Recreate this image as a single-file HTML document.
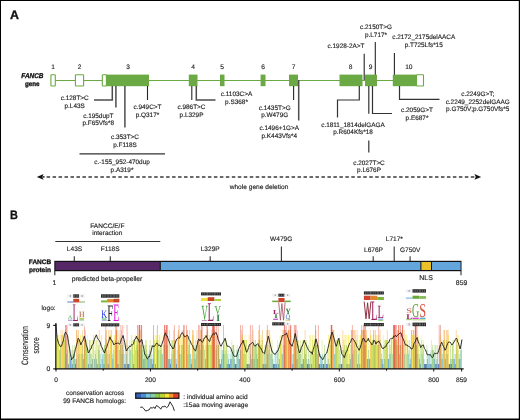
<!DOCTYPE html>
<html><head><meta charset="utf-8"><title>FANCB</title>
<style>
html,body{margin:0;padding:0;background:#fff;}
body{width:520px;height:420px;overflow:hidden;font-family:"Liberation Sans",sans-serif;}
svg{display:block;position:absolute;left:0;top:0;filter:opacity(0.9999)}
svg text{font-family:"Liberation Sans",sans-serif;text-rendering:geometricPrecision;}
</style></head><body>
<svg width="520" height="420" viewBox="0 0 520 420">
<rect x="0" y="0" width="520" height="420" fill="#fff"/>
<text x="10.1" y="18.8" text-anchor="start" font-size="12.4" font-weight="bold" font-style="normal" fill="#111" stroke="#111" stroke-width="0.3" >A</text>
<line x1="55" y1="80.5" x2="393" y2="80.5" stroke="#6aa943" stroke-width="1" />
<rect x="50.9" y="74.8" width="4.399999999999999" height="11.200000000000003" fill="#fff" stroke="#6aa943" stroke-width="1.1" rx="0.6"/>
<rect x="75.4" y="74.8" width="8.199999999999989" height="11.200000000000003" fill="#fff" stroke="#6aa943" stroke-width="1.1" rx="0.6"/>
<rect x="102.3" y="74.8" width="4.1000000000000085" height="11.200000000000003" fill="#fff" stroke="#6aa943" stroke-width="1.1" rx="0.6"/>
<rect x="106.2" y="74.6" width="42.8" height="11.600000000000009" fill="#6aa943"/>
<rect x="188.8" y="74.6" width="8.699999999999989" height="11.600000000000009" fill="#6aa943"/>
<rect x="220" y="74.6" width="4.5" height="11.600000000000009" fill="#6aa943"/>
<rect x="260.6" y="74.6" width="4.899999999999977" height="11.600000000000009" fill="#6aa943"/>
<rect x="289" y="74.6" width="9" height="11.600000000000009" fill="#6aa943"/>
<rect x="339.5" y="74.6" width="23.0" height="11.600000000000009" fill="#6aa943"/>
<rect x="365" y="74.6" width="12" height="11.600000000000009" fill="#6aa943"/>
<rect x="392.8" y="74.6" width="23.80000000000001" height="11.600000000000009" fill="#6aa943"/>
<rect x="416.5" y="74.8" width="7" height="11.200000000000003" fill="#fff" stroke="#6aa943" stroke-width="1.1" rx="0.6"/>
<text x="53" y="69.3" text-anchor="middle" font-size="6.6" font-weight="normal" font-style="normal" fill="#222" stroke="#222" stroke-width="0.14" >1</text>
<text x="79.5" y="69.3" text-anchor="middle" font-size="6.6" font-weight="normal" font-style="normal" fill="#222" stroke="#222" stroke-width="0.14" >2</text>
<text x="128" y="69.3" text-anchor="middle" font-size="6.6" font-weight="normal" font-style="normal" fill="#222" stroke="#222" stroke-width="0.14" >3</text>
<text x="193" y="69.3" text-anchor="middle" font-size="6.6" font-weight="normal" font-style="normal" fill="#222" stroke="#222" stroke-width="0.14" >4</text>
<text x="222" y="69.3" text-anchor="middle" font-size="6.6" font-weight="normal" font-style="normal" fill="#222" stroke="#222" stroke-width="0.14" >5</text>
<text x="263" y="69.3" text-anchor="middle" font-size="6.6" font-weight="normal" font-style="normal" fill="#222" stroke="#222" stroke-width="0.14" >6</text>
<text x="293.7" y="69.3" text-anchor="middle" font-size="6.6" font-weight="normal" font-style="normal" fill="#222" stroke="#222" stroke-width="0.14" >7</text>
<text x="350.7" y="69.3" text-anchor="middle" font-size="6.6" font-weight="normal" font-style="normal" fill="#222" stroke="#222" stroke-width="0.14" >8</text>
<text x="370.7" y="69.3" text-anchor="middle" font-size="6.6" font-weight="normal" font-style="normal" fill="#222" stroke="#222" stroke-width="0.14" >9</text>
<text x="408.8" y="69.3" text-anchor="middle" font-size="6.6" font-weight="normal" font-style="normal" fill="#222" stroke="#222" stroke-width="0.14" >10</text>
<polyline points="94,100 112.3,100 112.3,86" fill="none" stroke="#4d4d4d" stroke-width="1.5" />
<line x1="115.9" y1="86" x2="115.9" y2="107.5" stroke="#4d4d4d" stroke-width="1.5" />
<line x1="124.9" y1="86" x2="124.9" y2="127.5" stroke="#4d4d4d" stroke-width="1.5" />
<line x1="147.5" y1="86" x2="147.5" y2="100" stroke="#262626" stroke-width="1.1" />
<line x1="191.8" y1="86" x2="191.8" y2="100" stroke="#262626" stroke-width="1.1" />
<polyline points="196.3,86 196.3,100 215.5,100" fill="none" stroke="#4d4d4d" stroke-width="1.5" />
<line x1="293.6" y1="86" x2="293.6" y2="100" stroke="#262626" stroke-width="1.1" />
<line x1="298.7" y1="80" x2="298.7" y2="120.5" stroke="#4d4d4d" stroke-width="1.5" />
<polyline points="359.3,86 359.3,100 337.5,100 337.5,117.5" fill="none" stroke="#333" stroke-width="1.2" />
<line x1="364.2" y1="53.8" x2="364.2" y2="80" stroke="#262626" stroke-width="1.1" />
<line x1="368.8" y1="86" x2="368.8" y2="113.8" stroke="#333" stroke-width="1.2" />
<line x1="368.8" y1="140.5" x2="368.8" y2="152.5" stroke="#333" stroke-width="1.2" />
<polyline points="372.5,86 372.5,113.5 392,113.5" fill="none" stroke="#333" stroke-width="1.2" />
<line x1="375.3" y1="42" x2="375.3" y2="74.8" stroke="#262626" stroke-width="1.1" />
<line x1="394.4" y1="53" x2="394.4" y2="74.8" stroke="#262626" stroke-width="1.1" />
<polyline points="399.5,86 399.5,99.3 439.5,99.3" fill="none" stroke="#333" stroke-width="1.2" />
<line x1="79.5" y1="153.8" x2="165" y2="153.8" stroke="#333" stroke-width="1.2" />
<text x="74.7" y="100.2" text-anchor="middle" font-size="6.42" font-weight="normal" font-style="normal" fill="#222" stroke="#222" stroke-width="0.14" >c.128T&gt;C</text>
<text x="74.7" y="107.8" text-anchor="middle" font-size="6.42" font-weight="normal" font-style="normal" fill="#222" stroke="#222" stroke-width="0.14" >p.L43S</text>
<text x="98.3" y="117.6" text-anchor="middle" font-size="6.42" font-weight="normal" font-style="normal" fill="#222" stroke="#222" stroke-width="0.14" >c.195dupT</text>
<text x="98.3" y="125.2" text-anchor="middle" font-size="6.42" font-weight="normal" font-style="normal" fill="#222" stroke="#222" stroke-width="0.14" >p.F65Vfs*8</text>
<text x="125" y="139.0" text-anchor="middle" font-size="6.42" font-weight="normal" font-style="normal" fill="#222" stroke="#222" stroke-width="0.14" >c.353T&gt;C</text>
<text x="125" y="146.6" text-anchor="middle" font-size="6.42" font-weight="normal" font-style="normal" fill="#222" stroke="#222" stroke-width="0.14" >p.F118S</text>
<text x="122" y="164.0" text-anchor="middle" font-size="6.42" font-weight="normal" font-style="normal" fill="#222" stroke="#222" stroke-width="0.14" >c.-155_952-470dup</text>
<text x="122" y="171.6" text-anchor="middle" font-size="6.42" font-weight="normal" font-style="normal" fill="#222" stroke="#222" stroke-width="0.14" >p.A319*</text>
<text x="147.5" y="109.0" text-anchor="middle" font-size="6.42" font-weight="normal" font-style="normal" fill="#222" stroke="#222" stroke-width="0.14" >c.949C&gt;T</text>
<text x="147.5" y="116.6" text-anchor="middle" font-size="6.42" font-weight="normal" font-style="normal" fill="#222" stroke="#222" stroke-width="0.14" >p.Q317*</text>
<text x="191.5" y="109.3" text-anchor="middle" font-size="6.42" font-weight="normal" font-style="normal" fill="#222" stroke="#222" stroke-width="0.14" >c.986T&gt;C</text>
<text x="191.5" y="116.9" text-anchor="middle" font-size="6.42" font-weight="normal" font-style="normal" fill="#222" stroke="#222" stroke-width="0.14" >p.L329P</text>
<text x="236.5" y="96.0" text-anchor="middle" font-size="6.42" font-weight="normal" font-style="normal" fill="#222" stroke="#222" stroke-width="0.14" >c.1103C&gt;A</text>
<text x="236.5" y="103.6" text-anchor="middle" font-size="6.42" font-weight="normal" font-style="normal" fill="#222" stroke="#222" stroke-width="0.14" >p.S368*</text>
<text x="274.7" y="109.5" text-anchor="middle" font-size="6.42" font-weight="normal" font-style="normal" fill="#222" stroke="#222" stroke-width="0.14" >c.1435T&gt;G</text>
<text x="274.7" y="117.1" text-anchor="middle" font-size="6.42" font-weight="normal" font-style="normal" fill="#222" stroke="#222" stroke-width="0.14" >p.W479G</text>
<text x="279.3" y="130.4" text-anchor="middle" font-size="6.42" font-weight="normal" font-style="normal" fill="#222" stroke="#222" stroke-width="0.14" >c.1496+1G&gt;A</text>
<text x="279.3" y="138.0" text-anchor="middle" font-size="6.42" font-weight="normal" font-style="normal" fill="#222" stroke="#222" stroke-width="0.14" >p.K443Vfs*4</text>
<text x="353" y="126.7" text-anchor="middle" font-size="6.42" font-weight="normal" font-style="normal" fill="#222" stroke="#222" stroke-width="0.14" >c.1811_1814delGAGA</text>
<text x="353" y="134.3" text-anchor="middle" font-size="6.42" font-weight="normal" font-style="normal" fill="#222" stroke="#222" stroke-width="0.14" >p.R604Kfs*18</text>
<text x="346" y="48.4" text-anchor="middle" font-size="6.42" font-weight="normal" font-style="normal" fill="#222" stroke="#222" stroke-width="0.14" >c.1928-2A&gt;T</text>
<text x="376" y="29.0" text-anchor="middle" font-size="6.42" font-weight="normal" font-style="normal" fill="#222" stroke="#222" stroke-width="0.14" >c.2150T&gt;G</text>
<text x="376" y="36.6" text-anchor="middle" font-size="6.42" font-weight="normal" font-style="normal" fill="#222" stroke="#222" stroke-width="0.14" >p.L717*</text>
<text x="423.7" y="39.2" text-anchor="middle" font-size="6.42" font-weight="normal" font-style="normal" fill="#222" stroke="#222" stroke-width="0.14" >c.2172_2175delAACA</text>
<text x="423.7" y="46.8" text-anchor="middle" font-size="6.42" font-weight="normal" font-style="normal" fill="#222" stroke="#222" stroke-width="0.14" >p.T725Lfs*15</text>
<text x="417" y="112.2" text-anchor="middle" font-size="6.42" font-weight="normal" font-style="normal" fill="#222" stroke="#222" stroke-width="0.14" >c.2059G&gt;T</text>
<text x="417" y="119.8" text-anchor="middle" font-size="6.42" font-weight="normal" font-style="normal" fill="#222" stroke="#222" stroke-width="0.14" >p.E687*</text>
<text x="477.7" y="96.0" text-anchor="middle" font-size="6.42" font-weight="normal" font-style="normal" fill="#222" stroke="#222" stroke-width="0.14" >c.2249G&gt;T;</text>
<text x="477.7" y="103.6" text-anchor="middle" font-size="6.42" font-weight="normal" font-style="normal" fill="#222" stroke="#222" stroke-width="0.14" >c.2249_2252delGAAG</text>
<text x="477.7" y="111.2" text-anchor="middle" font-size="6.42" font-weight="normal" font-style="normal" fill="#222" stroke="#222" stroke-width="0.14" >p.G750V;p.G750Vfs*5</text>
<text x="369" y="164.6" text-anchor="middle" font-size="6.42" font-weight="normal" font-style="normal" fill="#222" stroke="#222" stroke-width="0.14" >c.2027T&gt;C</text>
<text x="369" y="172.2" text-anchor="middle" font-size="6.42" font-weight="normal" font-style="normal" fill="#222" stroke="#222" stroke-width="0.14" >p.L676P</text>
<text x="32.4" y="77.9" text-anchor="middle" font-size="6.9" font-weight="bold" font-style="italic" fill="#111" stroke="#111" stroke-width="0.3" textLength="22.2" lengthAdjust="spacingAndGlyphs">FANCB</text>
<text x="32.3" y="85.5" text-anchor="middle" font-size="6.6" font-weight="bold" font-style="normal" fill="#111" stroke="#111" stroke-width="0.3" textLength="14.6" lengthAdjust="spacingAndGlyphs">gene</text>
<line x1="46.6" y1="176.9" x2="475.5" y2="176.9" stroke="#3a3a3a" stroke-width="1.5" stroke-dasharray="3.5 2.475"/>
<line x1="42.5" y1="176.9" x2="44.6" y2="176.9" stroke="#222" stroke-width="1.5" />
<path d="M36.8,176.9 L43.6,174.1 L42.2,176.9 L43.6,179.7 Z" fill="#111"/>
<path d="M481.2,176.9 L474.4,174.1 L475.8,176.9 L474.4,179.7 Z" fill="#111"/>
<text x="259" y="189.2" text-anchor="middle" font-size="6.6" font-weight="normal" font-style="normal" fill="#222" stroke="#222" stroke-width="0.14" >whole gene deletion</text>
<text x="10.1" y="218.7" text-anchor="start" font-size="12.2" font-weight="bold" font-style="normal" fill="#111" stroke="#111" stroke-width="0.3" textLength="7.9" lengthAdjust="spacingAndGlyphs">B</text>
<text x="107.3" y="228" text-anchor="middle" font-size="6.55" font-weight="normal" font-style="normal" fill="#222" stroke="#222" stroke-width="0.14" >FANCC/E/F</text>
<text x="107.3" y="235.3" text-anchor="middle" font-size="6.55" font-weight="normal" font-style="normal" fill="#222" stroke="#222" stroke-width="0.14" >interaction</text>
<line x1="55.3" y1="241.5" x2="160.3" y2="241.5" stroke="#333" stroke-width="1.1" />
<text x="74.5" y="250.9" text-anchor="middle" font-size="6.55" font-weight="normal" font-style="normal" fill="#222" stroke="#222" stroke-width="0.14" >L43S</text>
<text x="110.2" y="250.9" text-anchor="middle" font-size="6.55" font-weight="normal" font-style="normal" fill="#222" stroke="#222" stroke-width="0.14" >F118S</text>
<text x="210.2" y="250.9" text-anchor="middle" font-size="6.55" font-weight="normal" font-style="normal" fill="#222" stroke="#222" stroke-width="0.14" >L329P</text>
<text x="281.2" y="241.2" text-anchor="middle" font-size="6.55" font-weight="normal" font-style="normal" fill="#222" stroke="#222" stroke-width="0.14" >W479G</text>
<text x="373.5" y="252" text-anchor="middle" font-size="6.55" font-weight="normal" font-style="normal" fill="#222" stroke="#222" stroke-width="0.14" >L676P</text>
<text x="394.3" y="241.3" text-anchor="middle" font-size="6.55" font-weight="normal" font-style="normal" fill="#222" stroke="#222" stroke-width="0.14" >L717*</text>
<text x="410.2" y="252" text-anchor="middle" font-size="6.55" font-weight="normal" font-style="normal" fill="#222" stroke="#222" stroke-width="0.14" >G750V</text>
<line x1="74.3" y1="256.3" x2="74.3" y2="261" stroke="#333" stroke-width="1.1" />
<line x1="110.3" y1="256.3" x2="110.3" y2="261" stroke="#333" stroke-width="1.1" />
<line x1="210.2" y1="256.3" x2="210.2" y2="261" stroke="#333" stroke-width="1.1" />
<line x1="281.4" y1="246.5" x2="281.4" y2="261" stroke="#333" stroke-width="1.1" />
<line x1="373.2" y1="256.3" x2="373.2" y2="261" stroke="#333" stroke-width="1.1" />
<line x1="394.2" y1="246.5" x2="394.2" y2="261" stroke="#333" stroke-width="1.1" />
<line x1="410.1" y1="256.3" x2="410.1" y2="261" stroke="#333" stroke-width="1.1" />
<rect x="54.3" y="260.8" width="407.2" height="10.4" fill="#111"/>
<rect x="55.4" y="262" width="104.3" height="8" fill="#562766"/>
<rect x="160.8" y="262" width="259.6" height="8" fill="#64a5dc"/>
<rect x="421.4" y="262" width="9.6" height="8" fill="#ecc027"/>
<rect x="432" y="262" width="28.6" height="8" fill="#64a5dc"/>
<line x1="54.8" y1="271" x2="54.8" y2="275.3" stroke="#333" stroke-width="1.1" />
<line x1="461" y1="271" x2="461" y2="275.3" stroke="#333" stroke-width="1.1" />
<text x="54.4" y="284.9" text-anchor="middle" font-size="6.8" font-weight="normal" font-style="normal" fill="#222" stroke="#222" stroke-width="0.14" >1</text>
<text x="461.6" y="285.3" text-anchor="middle" font-size="6.9" font-weight="normal" font-style="normal" fill="#222" stroke="#222" stroke-width="0.14" >859</text>
<text x="107" y="281" text-anchor="middle" font-size="6.7" font-weight="normal" font-style="normal" fill="#222" stroke="#222" stroke-width="0.14" >predicted beta-propeller</text>
<text x="426" y="280.2" text-anchor="middle" font-size="7" font-weight="normal" font-style="normal" fill="#222" stroke="#222" stroke-width="0.14" >NLS</text>
<text x="40" y="264.2" text-anchor="middle" font-size="6.5" font-weight="bold" font-style="normal" fill="#111" stroke="#111" stroke-width="0.3" >FANCB</text>
<text x="40" y="272.3" text-anchor="middle" font-size="6.5" font-weight="bold" font-style="normal" fill="#111" stroke="#111" stroke-width="0.3" >protein</text>
<text x="48.5" y="309.8" text-anchor="middle" font-size="6.55" font-weight="normal" font-style="normal" fill="#222" stroke="#222" stroke-width="0.14" >logo:</text>
<g shape-rendering="crispEdges">
<rect x="56" y="339.9" width="1" height="29.0" fill="#dee45a"/>
<rect x="56" y="335.1" width="1" height="4.8" fill="#fcf6b4"/>
<rect x="57" y="339.9" width="1" height="29.0" fill="#e8e759"/>
<rect x="57" y="335.1" width="1" height="4.8" fill="#fbf290"/>
<rect x="58" y="339.9" width="1" height="29.0" fill="#e2e55a"/>
<rect x="58" y="335.1" width="1" height="4.8" fill="#fcf5a6"/>
<rect x="59" y="349.6" width="1" height="19.3" fill="#b5db9c"/>
<rect x="59" y="335.1" width="1" height="14.5" fill="#fdfad1"/>
<rect x="60" y="349.6" width="1" height="19.3" fill="#b5c976"/>
<rect x="60" y="344.7" width="1" height="4.8" fill="#cdd387"/>
<rect x="60" y="330.2" width="1" height="14.5" fill="#fdead3"/>
<rect x="61" y="335.1" width="1" height="33.8" fill="#f8de56"/>
<rect x="61" y="330.2" width="1" height="4.8" fill="#fdeeda"/>
<rect x="62" y="339.9" width="1" height="29.0" fill="#f5d656"/>
<rect x="62" y="335.1" width="1" height="4.8" fill="#f8d85d"/>
<rect x="62" y="330.2" width="1" height="4.8" fill="#fce4c7"/>
<rect x="63" y="339.9" width="1" height="29.0" fill="#e0dc59"/>
<rect x="63" y="335.1" width="1" height="4.8" fill="#fbecaa"/>
<rect x="63" y="330.2" width="1" height="4.8" fill="#fef3e6"/>
<rect x="64" y="339.9" width="1" height="29.0" fill="#d3da5a"/>
<rect x="64" y="335.1" width="1" height="4.8" fill="#fdf4d9"/>
<rect x="64" y="330.2" width="1" height="4.8" fill="#fef6eb"/>
<rect x="65" y="339.9" width="1" height="29.0" fill="#e88550"/>
<rect x="65" y="330.2" width="1" height="9.7" fill="#ed885d"/>
<rect x="65" y="325.4" width="1" height="4.8" fill="#f0a69b"/>
<rect x="66" y="354.4" width="1" height="14.5" fill="#bd9393"/>
<rect x="66" y="325.4" width="1" height="29.0" fill="#f1a89f"/>
<rect x="67" y="354.4" width="1" height="14.5" fill="#c4b885"/>
<rect x="67" y="349.6" width="1" height="4.8" fill="#c6b985"/>
<rect x="67" y="335.1" width="1" height="14.5" fill="#f6cda9"/>
<rect x="67" y="325.4" width="1" height="9.7" fill="#f7d1cc"/>
<rect x="68" y="364.1" width="1" height="4.8" fill="#9cb190"/>
<rect x="68" y="339.9" width="1" height="24.2" fill="#f0f2ae"/>
<rect x="68" y="335.1" width="1" height="4.8" fill="#fdfad5"/>
<rect x="69" y="354.4" width="1" height="14.5" fill="#a2d5af"/>
<rect x="69" y="349.6" width="1" height="4.8" fill="#c1e3b6"/>
<rect x="69" y="339.9" width="1" height="9.7" fill="#f3f8da"/>
<rect x="70" y="359.2" width="1" height="9.7" fill="#75addb"/>
<rect x="70" y="354.4" width="1" height="4.8" fill="#e5f4f9"/>
<rect x="71" y="364.1" width="1" height="4.8" fill="#8ac5d1"/>
<rect x="71" y="359.2" width="1" height="4.8" fill="#94cdd5"/>
<rect x="71" y="354.4" width="1" height="4.8" fill="#acdcdb"/>
<rect x="71" y="349.6" width="1" height="4.8" fill="#ddf1e6"/>
<rect x="72" y="364.1" width="1" height="4.8" fill="#82b1a0"/>
<rect x="72" y="349.6" width="1" height="14.5" fill="#c6e5b7"/>
<rect x="72" y="344.7" width="1" height="4.8" fill="#dceec8"/>
<rect x="73" y="354.4" width="1" height="14.5" fill="#94d1c8"/>
<rect x="73" y="349.6" width="1" height="4.8" fill="#d1ebd6"/>
<rect x="73" y="344.7" width="1" height="4.8" fill="#f6fbf1"/>
<rect x="74" y="359.2" width="1" height="9.7" fill="#91c9ae"/>
<rect x="74" y="354.4" width="1" height="4.8" fill="#a8d8b4"/>
<rect x="74" y="344.7" width="1" height="9.7" fill="#d6ebbe"/>
<rect x="75" y="364.1" width="1" height="4.8" fill="#6693cc"/>
<rect x="75" y="359.2" width="1" height="4.8" fill="#b4d0e7"/>
<rect x="75" y="344.7" width="1" height="14.5" fill="#fcfefa"/>
<rect x="76" y="359.2" width="1" height="9.7" fill="#d0aa76"/>
<rect x="76" y="330.2" width="1" height="29.0" fill="#f8c380"/>
<rect x="77" y="354.4" width="1" height="14.5" fill="#dcd57a"/>
<rect x="77" y="335.1" width="1" height="19.3" fill="#f9e181"/>
<rect x="77" y="330.2" width="1" height="4.8" fill="#fdebd6"/>
<rect x="78" y="354.4" width="1" height="14.5" fill="#d2c373"/>
<rect x="78" y="339.9" width="1" height="14.5" fill="#eacd78"/>
<rect x="78" y="330.2" width="1" height="9.7" fill="#fad7aa"/>
<rect x="79" y="354.4" width="1" height="14.5" fill="#b8da88"/>
<rect x="79" y="339.9" width="1" height="14.5" fill="#dde990"/>
<rect x="79" y="335.1" width="1" height="4.8" fill="#fffef7"/>
<rect x="80" y="354.4" width="1" height="14.5" fill="#e5e66c"/>
<rect x="80" y="339.9" width="1" height="14.5" fill="#f6ed70"/>
<rect x="80" y="335.1" width="1" height="4.8" fill="#faf07d"/>
<rect x="81" y="354.4" width="1" height="14.5" fill="#b2d893"/>
<rect x="81" y="344.7" width="1" height="9.7" fill="#dfeb9c"/>
<rect x="81" y="339.9" width="1" height="4.8" fill="#e9f0ad"/>
<rect x="81" y="335.1" width="1" height="4.8" fill="#fefdec"/>
<rect x="82" y="354.4" width="1" height="14.5" fill="#c0c17b"/>
<rect x="82" y="344.7" width="1" height="9.7" fill="#d9cc81"/>
<rect x="82" y="330.2" width="1" height="14.5" fill="#fbdcb5"/>
<rect x="83" y="359.2" width="1" height="9.7" fill="#8fbcc0"/>
<rect x="83" y="354.4" width="1" height="4.8" fill="#d0e6d2"/>
<rect x="83" y="339.9" width="1" height="14.5" fill="#f5f5da"/>
<rect x="83" y="330.2" width="1" height="9.7" fill="#fffbf7"/>
<rect x="84" y="359.2" width="1" height="9.7" fill="#dfa356"/>
<rect x="84" y="339.9" width="1" height="19.3" fill="#e1a457"/>
<rect x="84" y="335.1" width="1" height="4.8" fill="#f1ae86"/>
<rect x="84" y="325.4" width="1" height="9.7" fill="#f2b2a9"/>
<rect x="85" y="344.7" width="1" height="24.2" fill="#e2c558"/>
<rect x="85" y="335.1" width="1" height="9.7" fill="#f8d07c"/>
<rect x="85" y="330.2" width="1" height="4.8" fill="#fad5a6"/>
<rect x="86" y="344.7" width="1" height="24.2" fill="#b5d863"/>
<rect x="86" y="339.9" width="1" height="4.8" fill="#e4efad"/>
<rect x="87" y="364.1" width="1" height="4.8" fill="#c1da8a"/>
<rect x="87" y="354.4" width="1" height="9.7" fill="#c7de8c"/>
<rect x="87" y="344.7" width="1" height="9.7" fill="#eaed94"/>
<rect x="87" y="335.1" width="1" height="9.7" fill="#fcf6b1"/>
<rect x="88" y="364.1" width="1" height="4.8" fill="#7fafbe"/>
<rect x="88" y="354.4" width="1" height="9.7" fill="#c8e7d8"/>
<rect x="88" y="349.6" width="1" height="4.8" fill="#daefdc"/>
<rect x="88" y="339.9" width="1" height="9.7" fill="#fcfdf5"/>
<rect x="89" y="349.6" width="1" height="19.3" fill="#c3dd67"/>
<rect x="89" y="339.9" width="1" height="9.7" fill="#d0e271"/>
<rect x="90" y="364.1" width="1" height="4.8" fill="#a2cba1"/>
<rect x="90" y="354.4" width="1" height="9.7" fill="#b8dca9"/>
<rect x="90" y="339.9" width="1" height="14.5" fill="#e6f0b3"/>
<rect x="91" y="364.1" width="1" height="4.8" fill="#85b6c4"/>
<rect x="91" y="354.4" width="1" height="9.7" fill="#bde2d8"/>
<rect x="91" y="339.9" width="1" height="14.5" fill="#f6fae5"/>
<rect x="92" y="359.2" width="1" height="9.7" fill="#9dc29b"/>
<rect x="92" y="354.4" width="1" height="4.8" fill="#e1edad"/>
<rect x="92" y="339.9" width="1" height="14.5" fill="#e4efad"/>
<rect x="93" y="339.9" width="1" height="29.0" fill="#ebe859"/>
<rect x="93" y="335.1" width="1" height="4.8" fill="#faf185"/>
<rect x="94" y="359.2" width="1" height="9.7" fill="#9bc1b1"/>
<rect x="94" y="349.6" width="1" height="9.7" fill="#e4f0c5"/>
<rect x="94" y="335.1" width="1" height="14.5" fill="#fdfad7"/>
<rect x="95" y="359.2" width="1" height="9.7" fill="#a1d4b3"/>
<rect x="95" y="354.4" width="1" height="4.8" fill="#a3d5b4"/>
<rect x="95" y="349.6" width="1" height="4.8" fill="#dbedc0"/>
<rect x="95" y="339.9" width="1" height="9.7" fill="#eff5cf"/>
<rect x="96" y="364.1" width="1" height="4.8" fill="#9bbf99"/>
<rect x="96" y="359.2" width="1" height="4.8" fill="#a3c59c"/>
<rect x="96" y="339.9" width="1" height="19.3" fill="#e4efad"/>
<rect x="97" y="364.1" width="1" height="4.8" fill="#a7ba8e"/>
<rect x="97" y="349.6" width="1" height="14.5" fill="#edf0a6"/>
<rect x="97" y="339.9" width="1" height="9.7" fill="#f5f3ac"/>
<rect x="97" y="335.1" width="1" height="4.8" fill="#fdf8c3"/>
<rect x="98" y="349.6" width="1" height="19.3" fill="#b2d283"/>
<rect x="98" y="344.7" width="1" height="4.8" fill="#d8e29f"/>
<rect x="98" y="335.1" width="1" height="9.7" fill="#fdf3d9"/>
<rect x="98" y="330.2" width="1" height="4.8" fill="#fef6eb"/>
<rect x="99" y="364.1" width="1" height="4.8" fill="#b2ba8e"/>
<rect x="99" y="349.6" width="1" height="14.5" fill="#cacc97"/>
<rect x="99" y="344.7" width="1" height="4.8" fill="#f4deb5"/>
<rect x="99" y="330.2" width="1" height="14.5" fill="#fce2c1"/>
<rect x="100" y="364.1" width="1" height="4.8" fill="#90bac0"/>
<rect x="100" y="354.4" width="1" height="9.7" fill="#c6e4d2"/>
<rect x="100" y="349.6" width="1" height="4.8" fill="#f9fade"/>
<rect x="100" y="335.1" width="1" height="14.5" fill="#fefbe1"/>
<rect x="101" y="359.2" width="1" height="9.7" fill="#dadc75"/>
<rect x="101" y="354.4" width="1" height="4.8" fill="#f8ef7d"/>
<rect x="101" y="335.1" width="1" height="19.3" fill="#faf07d"/>
<rect x="102" y="359.2" width="1" height="9.7" fill="#89c5d7"/>
<rect x="102" y="354.4" width="1" height="4.8" fill="#addce1"/>
<rect x="102" y="349.6" width="1" height="4.8" fill="#e7f5ee"/>
<rect x="103" y="364.1" width="1" height="4.8" fill="#82bad2"/>
<rect x="103" y="354.4" width="1" height="9.7" fill="#b0dde2"/>
<rect x="103" y="349.6" width="1" height="4.8" fill="#e9f6ef"/>
<rect x="104" y="364.1" width="1" height="4.8" fill="#96c37b"/>
<rect x="104" y="344.7" width="1" height="19.3" fill="#b6db86"/>
<rect x="104" y="335.1" width="1" height="9.7" fill="#fffefa"/>
<rect x="105" y="344.7" width="1" height="24.2" fill="#e4b457"/>
<rect x="105" y="335.1" width="1" height="9.7" fill="#f3bb6f"/>
<rect x="105" y="330.2" width="1" height="4.8" fill="#f5c4b8"/>
<rect x="105" y="325.4" width="1" height="4.8" fill="#f6c9c3"/>
<rect x="106" y="349.6" width="1" height="19.3" fill="#dab95e"/>
<rect x="106" y="339.9" width="1" height="9.7" fill="#e4bd65"/>
<rect x="106" y="330.2" width="1" height="9.7" fill="#f8caa2"/>
<rect x="106" y="325.4" width="1" height="4.8" fill="#fcebe9"/>
<rect x="107" y="364.1" width="1" height="4.8" fill="#91c8c3"/>
<rect x="107" y="354.4" width="1" height="9.7" fill="#a7d9ca"/>
<rect x="107" y="349.6" width="1" height="4.8" fill="#d5ecd5"/>
<rect x="107" y="339.9" width="1" height="9.7" fill="#fafcf0"/>
<rect x="108" y="364.1" width="1" height="4.8" fill="#aba591"/>
<rect x="108" y="354.4" width="1" height="9.7" fill="#e4d1a5"/>
<rect x="108" y="349.6" width="1" height="4.8" fill="#ebd4a7"/>
<rect x="108" y="330.2" width="1" height="19.3" fill="#fbdbb2"/>
<rect x="109" y="354.4" width="1" height="14.5" fill="#a9c9b6"/>
<rect x="109" y="349.6" width="1" height="4.8" fill="#dee0c2"/>
<rect x="109" y="330.2" width="1" height="19.3" fill="#fdecd8"/>
<rect x="110" y="335.1" width="1" height="33.8" fill="#f8da56"/>
<rect x="110" y="330.2" width="1" height="4.8" fill="#fce8cf"/>
<rect x="111" y="339.9" width="1" height="29.0" fill="#ebc855"/>
<rect x="111" y="335.1" width="1" height="4.8" fill="#f8d07f"/>
<rect x="111" y="330.2" width="1" height="4.8" fill="#fad5a6"/>
<rect x="112" y="359.2" width="1" height="9.7" fill="#92c5c3"/>
<rect x="112" y="354.4" width="1" height="4.8" fill="#bce0ce"/>
<rect x="112" y="339.9" width="1" height="14.5" fill="#f3f8da"/>
<rect x="113" y="359.2" width="1" height="9.7" fill="#add28f"/>
<rect x="113" y="349.6" width="1" height="9.7" fill="#c6e296"/>
<rect x="113" y="339.9" width="1" height="9.7" fill="#e6efad"/>
<rect x="113" y="335.1" width="1" height="4.8" fill="#fffef7"/>
<rect x="114" y="349.6" width="1" height="19.3" fill="#e7e766"/>
<rect x="114" y="339.9" width="1" height="9.7" fill="#f6ed70"/>
<rect x="114" y="335.1" width="1" height="4.8" fill="#faf07d"/>
<rect x="115" y="339.9" width="1" height="29.0" fill="#dea955"/>
<rect x="115" y="335.1" width="1" height="4.8" fill="#f3b694"/>
<rect x="115" y="330.2" width="1" height="4.8" fill="#f4b8a6"/>
<rect x="115" y="325.4" width="1" height="4.8" fill="#f5c1ba"/>
<rect x="116" y="330.2" width="1" height="38.7" fill="#ed8650"/>
<rect x="116" y="325.4" width="1" height="4.8" fill="#f2b0a7"/>
<rect x="117" y="364.1" width="1" height="4.8" fill="#b2b271"/>
<rect x="117" y="344.7" width="1" height="19.3" fill="#d0c97b"/>
<rect x="117" y="330.2" width="1" height="14.5" fill="#fbddbf"/>
<rect x="117" y="325.4" width="1" height="4.8" fill="#fef8f7"/>
<rect x="118" y="364.1" width="1" height="4.8" fill="#b1b878"/>
<rect x="118" y="344.7" width="1" height="19.3" fill="#e1dd89"/>
<rect x="118" y="339.9" width="1" height="4.8" fill="#e3de8b"/>
<rect x="118" y="330.2" width="1" height="9.7" fill="#fdeeda"/>
<rect x="119" y="349.6" width="1" height="19.3" fill="#c8d086"/>
<rect x="119" y="335.1" width="1" height="14.5" fill="#fbe5ab"/>
<rect x="119" y="330.2" width="1" height="4.8" fill="#fdead3"/>
<rect x="120" y="344.7" width="1" height="24.2" fill="#c7b85f"/>
<rect x="120" y="335.1" width="1" height="9.7" fill="#f6cfa9"/>
<rect x="120" y="325.4" width="1" height="9.7" fill="#f8d3ce"/>
<rect x="121" y="354.4" width="1" height="14.5" fill="#cfaa7f"/>
<rect x="121" y="344.7" width="1" height="9.7" fill="#f2b987"/>
<rect x="121" y="330.2" width="1" height="14.5" fill="#f5ba8c"/>
<rect x="121" y="325.4" width="1" height="4.8" fill="#fae1dd"/>
<rect x="122" y="354.4" width="1" height="14.5" fill="#b7ac74"/>
<rect x="122" y="344.7" width="1" height="9.7" fill="#cab378"/>
<rect x="122" y="339.9" width="1" height="4.8" fill="#f3c7b8"/>
<rect x="122" y="325.4" width="1" height="14.5" fill="#f6c9c3"/>
<rect x="123" y="354.4" width="1" height="14.5" fill="#b6c989"/>
<rect x="123" y="349.6" width="1" height="4.8" fill="#c1ce8c"/>
<rect x="123" y="339.9" width="1" height="9.7" fill="#e6dea7"/>
<rect x="123" y="325.4" width="1" height="14.5" fill="#fcebe9"/>
<rect x="124" y="364.1" width="1" height="4.8" fill="#72a4d0"/>
<rect x="124" y="354.4" width="1" height="9.7" fill="#cce9ef"/>
<rect x="124" y="349.6" width="1" height="4.8" fill="#f6fbf8"/>
<rect x="125" y="364.1" width="1" height="4.8" fill="#8ab38c"/>
<rect x="125" y="344.7" width="1" height="19.3" fill="#cde6a3"/>
<rect x="125" y="339.9" width="1" height="4.8" fill="#f6fae4"/>
<rect x="126" y="354.4" width="1" height="14.5" fill="#b1be9b"/>
<rect x="126" y="344.7" width="1" height="9.7" fill="#e7d5a7"/>
<rect x="126" y="339.9" width="1" height="4.8" fill="#e9d6ab"/>
<rect x="126" y="325.4" width="1" height="14.5" fill="#fae0dd"/>
<rect x="127" y="364.1" width="1" height="4.8" fill="#8f8990"/>
<rect x="127" y="344.7" width="1" height="19.3" fill="#e2caad"/>
<rect x="127" y="325.4" width="1" height="19.3" fill="#f8d4cf"/>
<rect x="128" y="364.1" width="1" height="4.8" fill="#6a92af"/>
<rect x="128" y="344.7" width="1" height="19.3" fill="#e9f4dc"/>
<rect x="129" y="364.1" width="1" height="4.8" fill="#9dc47a"/>
<rect x="129" y="349.6" width="1" height="14.5" fill="#c0df86"/>
<rect x="129" y="344.7" width="1" height="4.8" fill="#c2e088"/>
<rect x="129" y="339.9" width="1" height="4.8" fill="#eff5cf"/>
<rect x="130" y="349.6" width="1" height="19.3" fill="#a8d8a2"/>
<rect x="130" y="339.9" width="1" height="9.7" fill="#f5f8da"/>
<rect x="130" y="335.1" width="1" height="4.8" fill="#fffef7"/>
<rect x="131" y="349.6" width="1" height="19.3" fill="#e4e667"/>
<rect x="131" y="344.7" width="1" height="4.8" fill="#f2ec71"/>
<rect x="131" y="335.1" width="1" height="9.7" fill="#faf07d"/>
<rect x="132" y="354.4" width="1" height="14.5" fill="#b8d971"/>
<rect x="132" y="344.7" width="1" height="9.7" fill="#c5df74"/>
<rect x="132" y="339.9" width="1" height="4.8" fill="#e9f0ad"/>
<rect x="132" y="335.1" width="1" height="4.8" fill="#fefded"/>
<rect x="133" y="364.1" width="1" height="4.8" fill="#84b0b9"/>
<rect x="133" y="354.4" width="1" height="9.7" fill="#cbe7d1"/>
<rect x="133" y="339.9" width="1" height="14.5" fill="#f3f8da"/>
<rect x="134" y="364.1" width="1" height="4.8" fill="#ccdc60"/>
<rect x="134" y="339.9" width="1" height="24.2" fill="#d4e262"/>
<rect x="134" y="335.1" width="1" height="4.8" fill="#fefbe1"/>
<rect x="135" y="349.6" width="1" height="19.3" fill="#cbe086"/>
<rect x="135" y="339.9" width="1" height="9.7" fill="#fbf5a9"/>
<rect x="135" y="335.1" width="1" height="4.8" fill="#fcf5ab"/>
<rect x="136" y="344.7" width="1" height="24.2" fill="#cbdf5e"/>
<rect x="136" y="339.9" width="1" height="4.8" fill="#e2e982"/>
<rect x="136" y="335.1" width="1" height="4.8" fill="#fdfad5"/>
<rect x="137" y="349.6" width="1" height="19.3" fill="#c19a72"/>
<rect x="137" y="344.7" width="1" height="4.8" fill="#dda686"/>
<rect x="137" y="325.4" width="1" height="19.3" fill="#f2b0a7"/>
<rect x="138" y="349.6" width="1" height="19.3" fill="#e0b867"/>
<rect x="138" y="335.1" width="1" height="14.5" fill="#f3c075"/>
<rect x="138" y="325.4" width="1" height="9.7" fill="#f6c9c3"/>
<rect x="139" y="330.2" width="1" height="38.7" fill="#e6664f"/>
<rect x="139" y="325.4" width="1" height="4.8" fill="#e66b5a"/>
<rect x="140" y="344.7" width="1" height="24.2" fill="#d2a95a"/>
<rect x="140" y="330.2" width="1" height="14.5" fill="#f5ba91"/>
<rect x="140" y="325.4" width="1" height="4.8" fill="#f9dcd7"/>
<rect x="141" y="349.6" width="1" height="19.3" fill="#d57b5f"/>
<rect x="141" y="344.7" width="1" height="4.8" fill="#e28068"/>
<rect x="141" y="325.4" width="1" height="19.3" fill="#eb8476"/>
<rect x="142" y="354.4" width="1" height="14.5" fill="#a0cc96"/>
<rect x="142" y="349.6" width="1" height="4.8" fill="#b3d39b"/>
<rect x="142" y="344.7" width="1" height="4.8" fill="#d4e2b3"/>
<rect x="142" y="325.4" width="1" height="19.3" fill="#fdf5f4"/>
<rect x="143" y="359.2" width="1" height="9.7" fill="#82bcd3"/>
<rect x="143" y="354.4" width="1" height="4.8" fill="#c6e7e5"/>
<rect x="143" y="349.6" width="1" height="4.8" fill="#e9f6ed"/>
<rect x="143" y="344.7" width="1" height="4.8" fill="#fcfefb"/>
<rect x="144" y="359.2" width="1" height="9.7" fill="#94c898"/>
<rect x="144" y="349.6" width="1" height="9.7" fill="#b5dda1"/>
<rect x="144" y="344.7" width="1" height="4.8" fill="#d0e8b4"/>
<rect x="145" y="359.2" width="1" height="9.7" fill="#a9cd7d"/>
<rect x="145" y="344.7" width="1" height="14.5" fill="#cbe386"/>
<rect x="145" y="339.9" width="1" height="4.8" fill="#e4eeac"/>
<rect x="146" y="354.4" width="1" height="14.5" fill="#b2d97c"/>
<rect x="146" y="349.6" width="1" height="4.8" fill="#b4da7c"/>
<rect x="146" y="344.7" width="1" height="4.8" fill="#d1e691"/>
<rect x="146" y="339.9" width="1" height="4.8" fill="#e5efb0"/>
<rect x="147" y="359.2" width="1" height="9.7" fill="#86c2d9"/>
<rect x="147" y="354.4" width="1" height="4.8" fill="#b5e0e6"/>
<rect x="147" y="349.6" width="1" height="4.8" fill="#eef8f2"/>
<rect x="148" y="359.2" width="1" height="9.7" fill="#7fb9db"/>
<rect x="148" y="354.4" width="1" height="4.8" fill="#c7e7ee"/>
<rect x="148" y="349.6" width="1" height="4.8" fill="#f7fcf9"/>
<rect x="149" y="359.2" width="1" height="9.7" fill="#9ecf92"/>
<rect x="149" y="349.6" width="1" height="9.7" fill="#aeda96"/>
<rect x="149" y="344.7" width="1" height="4.8" fill="#d4eab2"/>
<rect x="149" y="339.9" width="1" height="4.8" fill="#f9fbec"/>
<rect x="150" y="359.2" width="1" height="9.7" fill="#99c39f"/>
<rect x="150" y="349.6" width="1" height="9.7" fill="#d6eaaf"/>
<rect x="150" y="344.7" width="1" height="4.8" fill="#e5f0ba"/>
<rect x="150" y="339.9" width="1" height="4.8" fill="#ecf3c5"/>
<rect x="151" y="359.2" width="1" height="9.7" fill="#83bbd0"/>
<rect x="151" y="354.4" width="1" height="4.8" fill="#cbe9e3"/>
<rect x="151" y="349.6" width="1" height="4.8" fill="#dff2e8"/>
<rect x="152" y="364.1" width="1" height="4.8" fill="#6d9ed3"/>
<rect x="152" y="359.2" width="1" height="4.8" fill="#bedcef"/>
<rect x="152" y="354.4" width="1" height="4.8" fill="#def1f8"/>
<rect x="153" y="359.2" width="1" height="9.7" fill="#cc9373"/>
<rect x="153" y="335.1" width="1" height="24.2" fill="#f0aa7d"/>
<rect x="153" y="325.4" width="1" height="9.7" fill="#f2aea5"/>
<rect x="154" y="344.7" width="1" height="24.2" fill="#c8de5f"/>
<rect x="154" y="339.9" width="1" height="4.8" fill="#e3ea88"/>
<rect x="154" y="335.1" width="1" height="4.8" fill="#fefbda"/>
<rect x="155" y="364.1" width="1" height="4.8" fill="#9db48e"/>
<rect x="155" y="344.7" width="1" height="19.3" fill="#ebf0a9"/>
<rect x="155" y="335.1" width="1" height="9.7" fill="#fdf8c6"/>
<rect x="156" y="339.9" width="1" height="29.0" fill="#e7de59"/>
<rect x="156" y="335.1" width="1" height="4.8" fill="#f9e990"/>
<rect x="156" y="325.4" width="1" height="9.7" fill="#fdf5f3"/>
<rect x="157" y="344.7" width="1" height="24.2" fill="#c5a75c"/>
<rect x="157" y="339.9" width="1" height="4.8" fill="#e8b894"/>
<rect x="157" y="325.4" width="1" height="14.5" fill="#f4bfb8"/>
<rect x="158" y="349.6" width="1" height="19.3" fill="#b9db81"/>
<rect x="158" y="344.7" width="1" height="4.8" fill="#e1ec9f"/>
<rect x="158" y="339.9" width="1" height="4.8" fill="#eaf0ad"/>
<rect x="158" y="335.1" width="1" height="4.8" fill="#fefce9"/>
<rect x="159" y="349.6" width="1" height="19.3" fill="#e4e66d"/>
<rect x="159" y="335.1" width="1" height="14.5" fill="#faf07d"/>
<rect x="160" y="349.6" width="1" height="19.3" fill="#b3d97d"/>
<rect x="160" y="344.7" width="1" height="4.8" fill="#d1e593"/>
<rect x="160" y="335.1" width="1" height="9.7" fill="#fefbda"/>
<rect x="161" y="354.4" width="1" height="14.5" fill="#b4d881"/>
<rect x="161" y="344.7" width="1" height="9.7" fill="#cee387"/>
<rect x="161" y="335.1" width="1" height="9.7" fill="#fdfad2"/>
<rect x="162" y="354.4" width="1" height="14.5" fill="#a9d6c1"/>
<rect x="162" y="335.1" width="1" height="19.3" fill="#fdfad4"/>
<rect x="163" y="344.7" width="1" height="24.2" fill="#c7db5f"/>
<rect x="163" y="339.9" width="1" height="4.8" fill="#e3e88b"/>
<rect x="163" y="335.1" width="1" height="4.8" fill="#fdf8d9"/>
<rect x="163" y="325.4" width="1" height="9.7" fill="#fffcfc"/>
<rect x="164" y="344.7" width="1" height="24.2" fill="#da7854"/>
<rect x="164" y="330.2" width="1" height="14.5" fill="#ea806d"/>
<rect x="164" y="325.4" width="1" height="4.8" fill="#eb8476"/>
<rect x="165" y="330.2" width="1" height="38.7" fill="#f19b50"/>
<rect x="165" y="325.4" width="1" height="4.8" fill="#f9dcd7"/>
<rect x="166" y="344.7" width="1" height="24.2" fill="#df7652"/>
<rect x="166" y="330.2" width="1" height="14.5" fill="#ea7b63"/>
<rect x="166" y="325.4" width="1" height="4.8" fill="#eb8476"/>
<rect x="167" y="344.7" width="1" height="24.2" fill="#c99b5a"/>
<rect x="167" y="339.9" width="1" height="4.8" fill="#eaab8f"/>
<rect x="167" y="325.4" width="1" height="14.5" fill="#f2b0a7"/>
<rect x="168" y="359.2" width="1" height="9.7" fill="#91b3ab"/>
<rect x="168" y="339.9" width="1" height="19.3" fill="#edeec3"/>
<rect x="168" y="325.4" width="1" height="14.5" fill="#fef8f7"/>
<rect x="169" y="359.2" width="1" height="9.7" fill="#b0a896"/>
<rect x="169" y="330.2" width="1" height="29.0" fill="#fad7aa"/>
<rect x="170" y="364.1" width="1" height="4.8" fill="#6390ce"/>
<rect x="170" y="359.2" width="1" height="4.8" fill="#b8d2ec"/>
<rect x="171" y="359.2" width="1" height="9.7" fill="#a4cd9e"/>
<rect x="171" y="354.4" width="1" height="4.8" fill="#c4e1a6"/>
<rect x="171" y="339.9" width="1" height="14.5" fill="#e4efad"/>
<rect x="172" y="354.4" width="1" height="14.5" fill="#bcdb79"/>
<rect x="172" y="349.6" width="1" height="4.8" fill="#d2e47e"/>
<rect x="172" y="339.9" width="1" height="9.7" fill="#d5e680"/>
<rect x="173" y="349.6" width="1" height="19.3" fill="#c6c17e"/>
<rect x="173" y="339.9" width="1" height="9.7" fill="#f1d39e"/>
<rect x="173" y="330.2" width="1" height="9.7" fill="#fad8b7"/>
<rect x="173" y="325.4" width="1" height="4.8" fill="#fdf4f3"/>
<rect x="174" y="344.7" width="1" height="24.2" fill="#d6a457"/>
<rect x="174" y="339.9" width="1" height="4.8" fill="#dfa965"/>
<rect x="174" y="330.2" width="1" height="9.7" fill="#f3b5a2"/>
<rect x="174" y="325.4" width="1" height="4.8" fill="#f4c0b8"/>
<rect x="175" y="359.2" width="1" height="9.7" fill="#aed272"/>
<rect x="175" y="344.7" width="1" height="14.5" fill="#c1de77"/>
<rect x="175" y="339.9" width="1" height="4.8" fill="#e4efad"/>
<rect x="176" y="364.1" width="1" height="4.8" fill="#729fc3"/>
<rect x="176" y="359.2" width="1" height="4.8" fill="#bbd7dc"/>
<rect x="176" y="349.6" width="1" height="9.7" fill="#ebf6e9"/>
<rect x="176" y="339.9" width="1" height="9.7" fill="#fcfdf5"/>
<rect x="177" y="364.1" width="1" height="4.8" fill="#d8e277"/>
<rect x="177" y="349.6" width="1" height="14.5" fill="#dde579"/>
<rect x="177" y="335.1" width="1" height="14.5" fill="#fbf28f"/>
<rect x="178" y="335.1" width="1" height="33.8" fill="#f2ac52"/>
<rect x="178" y="330.2" width="1" height="4.8" fill="#f4b17f"/>
<rect x="178" y="325.4" width="1" height="4.8" fill="#f9dbd7"/>
<rect x="179" y="354.4" width="1" height="14.5" fill="#acb684"/>
<rect x="179" y="344.7" width="1" height="9.7" fill="#c9c38a"/>
<rect x="179" y="325.4" width="1" height="19.3" fill="#f9dad6"/>
<rect x="180" y="354.4" width="1" height="14.5" fill="#c1dd9f"/>
<rect x="180" y="344.7" width="1" height="9.7" fill="#faf5ac"/>
<rect x="180" y="335.1" width="1" height="9.7" fill="#fcf6ae"/>
<rect x="181" y="354.4" width="1" height="14.5" fill="#b9c577"/>
<rect x="181" y="344.7" width="1" height="9.7" fill="#cdcd7c"/>
<rect x="181" y="330.2" width="1" height="14.5" fill="#fce4c6"/>
<rect x="182" y="344.7" width="1" height="24.2" fill="#d3d35e"/>
<rect x="182" y="335.1" width="1" height="9.7" fill="#fae59c"/>
<rect x="182" y="330.2" width="1" height="4.8" fill="#fdecd8"/>
<rect x="183" y="335.1" width="1" height="33.8" fill="#ed8d50"/>
<rect x="183" y="330.2" width="1" height="4.8" fill="#ee8f62"/>
<rect x="183" y="325.4" width="1" height="4.8" fill="#f2afa6"/>
<rect x="184" y="335.1" width="1" height="33.8" fill="#f0b054"/>
<rect x="184" y="325.4" width="1" height="9.7" fill="#f4bbb4"/>
<rect x="185" y="335.1" width="1" height="33.8" fill="#f8eb58"/>
<rect x="186" y="335.1" width="1" height="33.8" fill="#ee9a52"/>
<rect x="186" y="330.2" width="1" height="4.8" fill="#f0a084"/>
<rect x="186" y="325.4" width="1" height="4.8" fill="#f2b2a9"/>
<rect x="187" y="354.4" width="1" height="14.5" fill="#dcb474"/>
<rect x="187" y="330.2" width="1" height="24.2" fill="#f8c07a"/>
<rect x="188" y="354.4" width="1" height="14.5" fill="#b1d77e"/>
<rect x="188" y="344.7" width="1" height="9.7" fill="#cae284"/>
<rect x="188" y="339.9" width="1" height="4.8" fill="#e4eead"/>
<rect x="189" y="354.4" width="1" height="14.5" fill="#d4c45e"/>
<rect x="189" y="344.7" width="1" height="9.7" fill="#d8c65f"/>
<rect x="189" y="339.9" width="1" height="4.8" fill="#eace7b"/>
<rect x="189" y="330.2" width="1" height="9.7" fill="#fad8ae"/>
<rect x="190" y="364.1" width="1" height="4.8" fill="#93ccce"/>
<rect x="190" y="354.4" width="1" height="9.7" fill="#9ed4d2"/>
<rect x="190" y="339.9" width="1" height="14.5" fill="#f7fae5"/>
<rect x="191" y="364.1" width="1" height="4.8" fill="#77a1c5"/>
<rect x="191" y="359.2" width="1" height="4.8" fill="#bad5dd"/>
<rect x="191" y="354.4" width="1" height="4.8" fill="#f0f7eb"/>
<rect x="191" y="335.1" width="1" height="19.3" fill="#fefdee"/>
<rect x="192" y="359.2" width="1" height="9.7" fill="#eac360"/>
<rect x="192" y="335.1" width="1" height="24.2" fill="#f7cb63"/>
<rect x="192" y="330.2" width="1" height="4.8" fill="#fad2a1"/>
<rect x="193" y="344.7" width="1" height="24.2" fill="#e9ce58"/>
<rect x="193" y="335.1" width="1" height="9.7" fill="#f8d670"/>
<rect x="193" y="330.2" width="1" height="4.8" fill="#fbdeba"/>
<rect x="194" y="359.2" width="1" height="9.7" fill="#97cba3"/>
<rect x="194" y="349.6" width="1" height="9.7" fill="#b3ddab"/>
<rect x="194" y="344.7" width="1" height="4.8" fill="#e2f1ce"/>
<rect x="194" y="335.1" width="1" height="9.7" fill="#fffefa"/>
<rect x="195" y="359.2" width="1" height="9.7" fill="#a3cb9d"/>
<rect x="195" y="354.4" width="1" height="4.8" fill="#cae3a7"/>
<rect x="195" y="339.9" width="1" height="14.5" fill="#e4efad"/>
<rect x="196" y="354.4" width="1" height="14.5" fill="#b2c781"/>
<rect x="196" y="344.7" width="1" height="9.7" fill="#cdd387"/>
<rect x="196" y="330.2" width="1" height="14.5" fill="#fcead2"/>
<rect x="197" y="344.7" width="1" height="24.2" fill="#bfcc60"/>
<rect x="197" y="339.9" width="1" height="4.8" fill="#ede1a8"/>
<rect x="197" y="330.2" width="1" height="9.7" fill="#fcebd8"/>
<rect x="197" y="325.4" width="1" height="4.8" fill="#fffcfc"/>
<rect x="198" y="344.7" width="1" height="24.2" fill="#d3a557"/>
<rect x="198" y="339.9" width="1" height="4.8" fill="#d8a85e"/>
<rect x="198" y="325.4" width="1" height="14.5" fill="#f3b8b0"/>
<rect x="199" y="349.6" width="1" height="19.3" fill="#beab65"/>
<rect x="199" y="344.7" width="1" height="4.8" fill="#c7af6b"/>
<rect x="199" y="339.9" width="1" height="4.8" fill="#eec2a9"/>
<rect x="199" y="325.4" width="1" height="14.5" fill="#f6c6c0"/>
<rect x="200" y="349.6" width="1" height="19.3" fill="#d1b477"/>
<rect x="200" y="330.2" width="1" height="19.3" fill="#f7c493"/>
<rect x="200" y="325.4" width="1" height="4.8" fill="#fceeec"/>
<rect x="201" y="330.2" width="1" height="38.7" fill="#ec814f"/>
<rect x="201" y="325.4" width="1" height="4.8" fill="#f0a49a"/>
<rect x="202" y="344.7" width="1" height="24.2" fill="#ccaf5a"/>
<rect x="202" y="339.9" width="1" height="4.8" fill="#ddb775"/>
<rect x="202" y="325.4" width="1" height="14.5" fill="#f5c6bf"/>
<rect x="203" y="344.7" width="1" height="24.2" fill="#c8dd5f"/>
<rect x="203" y="339.9" width="1" height="4.8" fill="#e3ea8a"/>
<rect x="203" y="335.1" width="1" height="4.8" fill="#fefbdb"/>
<rect x="204" y="349.6" width="1" height="19.3" fill="#c9e088"/>
<rect x="204" y="335.1" width="1" height="14.5" fill="#fcf5ad"/>
<rect x="205" y="359.2" width="1" height="9.7" fill="#9bc09d"/>
<rect x="205" y="344.7" width="1" height="14.5" fill="#e3eeb0"/>
<rect x="205" y="335.1" width="1" height="9.7" fill="#fefbda"/>
<rect x="206" y="344.7" width="1" height="24.2" fill="#e1b758"/>
<rect x="206" y="335.1" width="1" height="9.7" fill="#f3bf74"/>
<rect x="206" y="325.4" width="1" height="9.7" fill="#f6c8c2"/>
<rect x="207" y="344.7" width="1" height="24.2" fill="#e68251"/>
<rect x="207" y="330.2" width="1" height="14.5" fill="#ec855b"/>
<rect x="207" y="325.4" width="1" height="4.8" fill="#f0a297"/>
<rect x="208" y="344.7" width="1" height="24.2" fill="#c3d460"/>
<rect x="208" y="339.9" width="1" height="4.8" fill="#e9e69b"/>
<rect x="208" y="335.1" width="1" height="4.8" fill="#fdf3d9"/>
<rect x="208" y="330.2" width="1" height="4.8" fill="#fef5e9"/>
<rect x="209" y="344.7" width="1" height="24.2" fill="#e8e75b"/>
<rect x="209" y="339.9" width="1" height="4.8" fill="#f5ed6e"/>
<rect x="209" y="335.1" width="1" height="4.8" fill="#faf07d"/>
<rect x="210" y="344.7" width="1" height="24.2" fill="#cddf61"/>
<rect x="210" y="335.1" width="1" height="9.7" fill="#fcf5ab"/>
<rect x="211" y="344.7" width="1" height="24.2" fill="#dcc65a"/>
<rect x="211" y="335.1" width="1" height="9.7" fill="#f9d387"/>
<rect x="211" y="330.2" width="1" height="4.8" fill="#fad8ac"/>
<rect x="212" y="335.1" width="1" height="33.8" fill="#ea8651"/>
<rect x="212" y="325.4" width="1" height="9.7" fill="#ec8b7e"/>
<rect x="213" y="325.4" width="1" height="43.5" fill="#e5614f"/>
<rect x="214" y="335.1" width="1" height="33.8" fill="#ea7a4f"/>
<rect x="214" y="330.2" width="1" height="4.8" fill="#ea7a53"/>
<rect x="214" y="325.4" width="1" height="4.8" fill="#ed9286"/>
<rect x="215" y="349.6" width="1" height="19.3" fill="#d9d275"/>
<rect x="215" y="335.1" width="1" height="14.5" fill="#f9e08d"/>
<rect x="215" y="330.2" width="1" height="4.8" fill="#fce9d8"/>
<rect x="215" y="325.4" width="1" height="4.8" fill="#fef7f6"/>
<rect x="216" y="349.6" width="1" height="19.3" fill="#c4a568"/>
<rect x="216" y="344.7" width="1" height="4.8" fill="#d2ab72"/>
<rect x="216" y="335.1" width="1" height="9.7" fill="#f4bca8"/>
<rect x="216" y="325.4" width="1" height="9.7" fill="#f4bdb6"/>
<rect x="217" y="344.7" width="1" height="24.2" fill="#edd859"/>
<rect x="217" y="335.1" width="1" height="9.7" fill="#f7dd69"/>
<rect x="217" y="325.4" width="1" height="9.7" fill="#fcedea"/>
<rect x="218" y="344.7" width="1" height="24.2" fill="#bfac5f"/>
<rect x="218" y="335.1" width="1" height="9.7" fill="#f5c6b5"/>
<rect x="218" y="325.4" width="1" height="9.7" fill="#f6c7c1"/>
<rect x="219" y="364.1" width="1" height="4.8" fill="#7dadad"/>
<rect x="219" y="359.2" width="1" height="4.8" fill="#9bc5b8"/>
<rect x="219" y="344.7" width="1" height="14.5" fill="#ddefc9"/>
<rect x="220" y="364.1" width="1" height="4.8" fill="#6891b2"/>
<rect x="220" y="359.2" width="1" height="4.8" fill="#e9f4df"/>
<rect x="220" y="344.7" width="1" height="14.5" fill="#ebf5df"/>
<rect x="221" y="359.2" width="1" height="9.7" fill="#86bbb5"/>
<rect x="221" y="349.6" width="1" height="9.7" fill="#d0eac9"/>
<rect x="221" y="344.7" width="1" height="4.8" fill="#e8f4da"/>
<rect x="222" y="354.4" width="1" height="14.5" fill="#98d3c3"/>
<rect x="222" y="349.6" width="1" height="4.8" fill="#b8e0ca"/>
<rect x="222" y="325.4" width="1" height="24.2" fill="#fffffe"/>
<rect x="223" y="354.4" width="1" height="14.5" fill="#be9d74"/>
<rect x="223" y="344.7" width="1" height="9.7" fill="#d4a679"/>
<rect x="223" y="339.9" width="1" height="4.8" fill="#f1b4a7"/>
<rect x="223" y="325.4" width="1" height="14.5" fill="#f3b5ad"/>
<rect x="224" y="354.4" width="1" height="14.5" fill="#b1d88d"/>
<rect x="224" y="344.7" width="1" height="9.7" fill="#d8e896"/>
<rect x="224" y="339.9" width="1" height="4.8" fill="#e7efad"/>
<rect x="224" y="335.1" width="1" height="4.8" fill="#fffef4"/>
<rect x="225" y="354.4" width="1" height="14.5" fill="#c4de8d"/>
<rect x="225" y="349.6" width="1" height="4.8" fill="#d2e490"/>
<rect x="225" y="339.9" width="1" height="9.7" fill="#f7f4ac"/>
<rect x="225" y="335.1" width="1" height="4.8" fill="#fcf7bc"/>
<rect x="226" y="364.1" width="1" height="4.8" fill="#a5cc78"/>
<rect x="226" y="349.6" width="1" height="14.5" fill="#bcdd80"/>
<rect x="226" y="344.7" width="1" height="4.8" fill="#c5e186"/>
<rect x="226" y="339.9" width="1" height="4.8" fill="#ebf3c3"/>
<rect x="227" y="364.1" width="1" height="4.8" fill="#7fb5cc"/>
<rect x="227" y="354.4" width="1" height="9.7" fill="#b7e0df"/>
<rect x="227" y="349.6" width="1" height="4.8" fill="#e9f5ea"/>
<rect x="227" y="344.7" width="1" height="4.8" fill="#f9fcf6"/>
<rect x="228" y="364.1" width="1" height="4.8" fill="#79accb"/>
<rect x="228" y="359.2" width="1" height="4.8" fill="#9ac6d6"/>
<rect x="228" y="354.4" width="1" height="4.8" fill="#def1e8"/>
<rect x="228" y="349.6" width="1" height="4.8" fill="#e1f2e9"/>
<rect x="229" y="364.1" width="1" height="4.8" fill="#6591cc"/>
<rect x="229" y="354.4" width="1" height="9.7" fill="#e5f4f9"/>
<rect x="230" y="359.2" width="1" height="9.7" fill="#81bad3"/>
<rect x="230" y="354.4" width="1" height="4.8" fill="#cbe9e6"/>
<rect x="230" y="349.6" width="1" height="4.8" fill="#e5f4ec"/>
<rect x="231" y="359.2" width="1" height="9.7" fill="#93c0ad"/>
<rect x="231" y="354.4" width="1" height="4.8" fill="#d8ecbf"/>
<rect x="231" y="349.6" width="1" height="4.8" fill="#dbedc0"/>
<rect x="231" y="339.9" width="1" height="9.7" fill="#eff5cf"/>
<rect x="232" y="354.4" width="1" height="14.5" fill="#9fd39f"/>
<rect x="232" y="344.7" width="1" height="9.7" fill="#d2e8ab"/>
<rect x="232" y="339.9" width="1" height="4.8" fill="#f6f9e3"/>
<rect x="233" y="349.6" width="1" height="19.3" fill="#a0d271"/>
<rect x="233" y="344.7" width="1" height="4.8" fill="#a9d677"/>
<rect x="234" y="364.1" width="1" height="4.8" fill="#83b7bd"/>
<rect x="234" y="359.2" width="1" height="4.8" fill="#96c6c4"/>
<rect x="234" y="349.6" width="1" height="9.7" fill="#cfead3"/>
<rect x="234" y="344.7" width="1" height="4.8" fill="#f5faef"/>
<rect x="235" y="364.1" width="1" height="4.8" fill="#5a81c6"/>
<rect x="235" y="359.2" width="1" height="4.8" fill="#f4f8fc"/>
<rect x="236" y="364.1" width="1" height="4.8" fill="#84b5ae"/>
<rect x="236" y="349.6" width="1" height="14.5" fill="#c0e4c3"/>
<rect x="236" y="344.7" width="1" height="4.8" fill="#eef7e4"/>
<rect x="237" y="354.4" width="1" height="14.5" fill="#9ad3ab"/>
<rect x="237" y="349.6" width="1" height="4.8" fill="#b2ddb0"/>
<rect x="237" y="344.7" width="1" height="4.8" fill="#e4f2d5"/>
<rect x="238" y="359.2" width="1" height="9.7" fill="#8dc7ca"/>
<rect x="238" y="354.4" width="1" height="4.8" fill="#b0ded3"/>
<rect x="238" y="349.6" width="1" height="4.8" fill="#cceada"/>
<rect x="239" y="359.2" width="1" height="9.7" fill="#7cb1ce"/>
<rect x="239" y="349.6" width="1" height="9.7" fill="#e3f3ea"/>
<rect x="239" y="325.4" width="1" height="24.2" fill="#fffefe"/>
<rect x="240" y="349.6" width="1" height="19.3" fill="#c19e82"/>
<rect x="240" y="330.2" width="1" height="19.3" fill="#f2b3a7"/>
<rect x="240" y="325.4" width="1" height="4.8" fill="#f3b6ad"/>
<rect x="241" y="349.6" width="1" height="19.3" fill="#e7c363"/>
<rect x="241" y="335.1" width="1" height="14.5" fill="#f7ca6e"/>
<rect x="241" y="330.2" width="1" height="4.8" fill="#f9d0a8"/>
<rect x="241" y="325.4" width="1" height="4.8" fill="#fdf4f3"/>
<rect x="242" y="339.9" width="1" height="29.0" fill="#ecb355"/>
<rect x="242" y="335.1" width="1" height="4.8" fill="#f1b665"/>
<rect x="242" y="325.4" width="1" height="9.7" fill="#f5c0b9"/>
<rect x="243" y="354.4" width="1" height="14.5" fill="#b5d994"/>
<rect x="243" y="339.9" width="1" height="14.5" fill="#e3ed9e"/>
<rect x="243" y="335.1" width="1" height="4.8" fill="#fefdf0"/>
<rect x="244" y="354.4" width="1" height="14.5" fill="#cddf63"/>
<rect x="244" y="339.9" width="1" height="14.5" fill="#d4e265"/>
<rect x="244" y="335.1" width="1" height="4.8" fill="#fefce3"/>
<rect x="245" y="354.4" width="1" height="14.5" fill="#bbdb9c"/>
<rect x="245" y="339.9" width="1" height="14.5" fill="#f1f2a8"/>
<rect x="245" y="335.1" width="1" height="4.8" fill="#fdf9cd"/>
<rect x="246" y="364.1" width="1" height="4.8" fill="#afc874"/>
<rect x="246" y="339.9" width="1" height="24.2" fill="#d5e681"/>
<rect x="247" y="364.1" width="1" height="4.8" fill="#6a95c1"/>
<rect x="247" y="349.6" width="1" height="14.5" fill="#e5f4ec"/>
<rect x="248" y="364.1" width="1" height="4.8" fill="#96b0a1"/>
<rect x="248" y="349.6" width="1" height="14.5" fill="#e9f1bf"/>
<rect x="248" y="335.1" width="1" height="14.5" fill="#fdf9ce"/>
<rect x="249" y="364.1" width="1" height="4.8" fill="#93ab8e"/>
<rect x="249" y="344.7" width="1" height="19.3" fill="#dee5a8"/>
<rect x="249" y="335.1" width="1" height="9.7" fill="#fcf3d9"/>
<rect x="249" y="325.4" width="1" height="9.7" fill="#fef7f6"/>
<rect x="250" y="354.4" width="1" height="14.5" fill="#bda48a"/>
<rect x="250" y="344.7" width="1" height="9.7" fill="#e6b593"/>
<rect x="250" y="335.1" width="1" height="9.7" fill="#f4bca8"/>
<rect x="250" y="325.4" width="1" height="9.7" fill="#f4bdb6"/>
<rect x="251" y="359.2" width="1" height="9.7" fill="#b4bc98"/>
<rect x="251" y="354.4" width="1" height="4.8" fill="#ede0a8"/>
<rect x="251" y="335.1" width="1" height="19.3" fill="#f9e5aa"/>
<rect x="251" y="325.4" width="1" height="9.7" fill="#fcecea"/>
<rect x="252" y="359.2" width="1" height="9.7" fill="#c1a165"/>
<rect x="252" y="344.7" width="1" height="14.5" fill="#cca868"/>
<rect x="252" y="330.2" width="1" height="14.5" fill="#f4bba7"/>
<rect x="252" y="325.4" width="1" height="4.8" fill="#f6c8c1"/>
<rect x="253" y="359.2" width="1" height="9.7" fill="#c5c370"/>
<rect x="253" y="344.7" width="1" height="14.5" fill="#dfd477"/>
<rect x="253" y="339.9" width="1" height="4.8" fill="#e3d67d"/>
<rect x="253" y="330.2" width="1" height="9.7" fill="#fce5c8"/>
<rect x="254" y="359.2" width="1" height="9.7" fill="#9bc787"/>
<rect x="254" y="344.7" width="1" height="14.5" fill="#c5e292"/>
<rect x="254" y="339.9" width="1" height="4.8" fill="#f3f8da"/>
<rect x="255" y="344.7" width="1" height="24.2" fill="#bfdb5f"/>
<rect x="255" y="339.9" width="1" height="4.8" fill="#d6e683"/>
<rect x="256" y="359.2" width="1" height="9.7" fill="#9bd18d"/>
<rect x="256" y="354.4" width="1" height="4.8" fill="#9cd18e"/>
<rect x="256" y="344.7" width="1" height="9.7" fill="#bbdf95"/>
<rect x="257" y="359.2" width="1" height="9.7" fill="#87bcb4"/>
<rect x="257" y="354.4" width="1" height="4.8" fill="#cae7c6"/>
<rect x="257" y="344.7" width="1" height="9.7" fill="#e0f0cb"/>
<rect x="257" y="339.9" width="1" height="4.8" fill="#fdfef9"/>
<rect x="258" y="344.7" width="1" height="24.2" fill="#d4c259"/>
<rect x="258" y="339.9" width="1" height="4.8" fill="#e2c970"/>
<rect x="258" y="330.2" width="1" height="9.7" fill="#fad8b7"/>
<rect x="258" y="325.4" width="1" height="4.8" fill="#fdf4f3"/>
<rect x="259" y="344.7" width="1" height="24.2" fill="#d5a557"/>
<rect x="259" y="339.9" width="1" height="4.8" fill="#dfa966"/>
<rect x="259" y="330.2" width="1" height="9.7" fill="#f3b6a3"/>
<rect x="259" y="325.4" width="1" height="4.8" fill="#f5c0b9"/>
<rect x="260" y="344.7" width="1" height="24.2" fill="#c8dd62"/>
<rect x="260" y="339.9" width="1" height="4.8" fill="#f7f4ac"/>
<rect x="260" y="335.1" width="1" height="4.8" fill="#fcf7ba"/>
<rect x="261" y="344.7" width="1" height="24.2" fill="#d3e15f"/>
<rect x="261" y="339.9" width="1" height="4.8" fill="#f3f090"/>
<rect x="261" y="335.1" width="1" height="4.8" fill="#fcf5ab"/>
<rect x="262" y="364.1" width="1" height="4.8" fill="#c9b46b"/>
<rect x="262" y="339.9" width="1" height="24.2" fill="#eacd77"/>
<rect x="262" y="335.1" width="1" height="4.8" fill="#fad7a8"/>
<rect x="262" y="330.2" width="1" height="4.8" fill="#fad8ac"/>
<rect x="263" y="364.1" width="1" height="4.8" fill="#73a7d5"/>
<rect x="263" y="354.4" width="1" height="9.7" fill="#c6e7f2"/>
<rect x="264" y="364.1" width="1" height="4.8" fill="#8dc0a6"/>
<rect x="264" y="349.6" width="1" height="14.5" fill="#b4deb3"/>
<rect x="264" y="344.7" width="1" height="4.8" fill="#e6f3d8"/>
<rect x="265" y="364.1" width="1" height="4.8" fill="#89bba9"/>
<rect x="265" y="349.6" width="1" height="14.5" fill="#bae1bb"/>
<rect x="265" y="344.7" width="1" height="4.8" fill="#eaf5de"/>
<rect x="266" y="364.1" width="1" height="4.8" fill="#b4b170"/>
<rect x="266" y="344.7" width="1" height="19.3" fill="#d0c77a"/>
<rect x="266" y="330.2" width="1" height="14.5" fill="#fadbbc"/>
<rect x="266" y="325.4" width="1" height="4.8" fill="#fef7f6"/>
<rect x="267" y="354.4" width="1" height="14.5" fill="#c99986"/>
<rect x="267" y="330.2" width="1" height="24.2" fill="#f2ab8f"/>
<rect x="267" y="325.4" width="1" height="4.8" fill="#f4bdb6"/>
<rect x="268" y="354.4" width="1" height="14.5" fill="#bdc48b"/>
<rect x="268" y="349.6" width="1" height="4.8" fill="#c9ca8e"/>
<rect x="268" y="344.7" width="1" height="4.8" fill="#f0daab"/>
<rect x="268" y="330.2" width="1" height="14.5" fill="#fbdfbc"/>
<rect x="269" y="349.6" width="1" height="19.3" fill="#d2c662"/>
<rect x="269" y="344.7" width="1" height="4.8" fill="#d9c967"/>
<rect x="269" y="335.1" width="1" height="9.7" fill="#fad99b"/>
<rect x="269" y="330.2" width="1" height="4.8" fill="#fbdcb5"/>
<rect x="270" y="354.4" width="1" height="14.5" fill="#b3d6b2"/>
<rect x="270" y="335.1" width="1" height="19.3" fill="#fdf5c3"/>
<rect x="270" y="330.2" width="1" height="4.8" fill="#fffcf8"/>
<rect x="271" y="354.4" width="1" height="14.5" fill="#a1d5b1"/>
<rect x="271" y="349.6" width="1" height="4.8" fill="#c3e3b8"/>
<rect x="271" y="339.9" width="1" height="9.7" fill="#f3f8dc"/>
<rect x="272" y="359.2" width="1" height="9.7" fill="#9ccba8"/>
<rect x="272" y="349.6" width="1" height="9.7" fill="#bfe2b1"/>
<rect x="272" y="339.9" width="1" height="9.7" fill="#f2f7d7"/>
<rect x="273" y="364.1" width="1" height="4.8" fill="#5d86c9"/>
<rect x="273" y="359.2" width="1" height="4.8" fill="#dfebf7"/>
<rect x="274" y="364.1" width="1" height="4.8" fill="#6b9ad0"/>
<rect x="274" y="354.4" width="1" height="9.7" fill="#d7eef6"/>
<rect x="275" y="364.1" width="1" height="4.8" fill="#7cb3d7"/>
<rect x="275" y="354.4" width="1" height="9.7" fill="#b5e0eb"/>
<rect x="275" y="349.6" width="1" height="4.8" fill="#f8fcfa"/>
<rect x="276" y="364.1" width="1" height="4.8" fill="#7aaabd"/>
<rect x="276" y="349.6" width="1" height="14.5" fill="#cdeadb"/>
<rect x="277" y="364.1" width="1" height="4.8" fill="#a9d188"/>
<rect x="277" y="349.6" width="1" height="14.5" fill="#b8dc8d"/>
<rect x="277" y="344.7" width="1" height="4.8" fill="#dceba8"/>
<rect x="277" y="339.9" width="1" height="4.8" fill="#e9f2bc"/>
<rect x="278" y="364.1" width="1" height="4.8" fill="#82ae9e"/>
<rect x="278" y="349.6" width="1" height="14.5" fill="#cce7b8"/>
<rect x="278" y="344.7" width="1" height="4.8" fill="#dceec4"/>
<rect x="278" y="339.9" width="1" height="4.8" fill="#fcfdf6"/>
<rect x="279" y="364.1" width="1" height="4.8" fill="#97c0b4"/>
<rect x="279" y="359.2" width="1" height="4.8" fill="#9bc3b5"/>
<rect x="279" y="349.6" width="1" height="9.7" fill="#e0efc8"/>
<rect x="279" y="335.1" width="1" height="14.5" fill="#fefbde"/>
<rect x="280" y="339.9" width="1" height="29.0" fill="#e0e55a"/>
<rect x="280" y="335.1" width="1" height="4.8" fill="#fcf5ac"/>
<rect x="281" y="354.4" width="1" height="14.5" fill="#c4dd7f"/>
<rect x="281" y="339.9" width="1" height="14.5" fill="#e2ea86"/>
<rect x="281" y="335.1" width="1" height="4.8" fill="#fdfad8"/>
<rect x="282" y="354.4" width="1" height="14.5" fill="#aec4b6"/>
<rect x="282" y="330.2" width="1" height="24.2" fill="#fce5c8"/>
<rect x="283" y="344.7" width="1" height="24.2" fill="#d8b559"/>
<rect x="283" y="330.2" width="1" height="14.5" fill="#f8c38a"/>
<rect x="283" y="325.4" width="1" height="4.8" fill="#fef7f6"/>
<rect x="284" y="344.7" width="1" height="24.2" fill="#dd7753"/>
<rect x="284" y="330.2" width="1" height="14.5" fill="#ea7d67"/>
<rect x="284" y="325.4" width="1" height="4.8" fill="#eb8476"/>
<rect x="285" y="330.2" width="1" height="38.7" fill="#f19b50"/>
<rect x="285" y="325.4" width="1" height="4.8" fill="#f9dcd7"/>
<rect x="286" y="339.9" width="1" height="29.0" fill="#eab455"/>
<rect x="286" y="335.1" width="1" height="4.8" fill="#f2b96d"/>
<rect x="286" y="330.2" width="1" height="4.8" fill="#f5c2b5"/>
<rect x="286" y="325.4" width="1" height="4.8" fill="#f6c8c1"/>
<rect x="287" y="339.9" width="1" height="29.0" fill="#e9dc58"/>
<rect x="287" y="335.1" width="1" height="4.8" fill="#fae68b"/>
<rect x="287" y="330.2" width="1" height="4.8" fill="#fdf0df"/>
<rect x="288" y="335.1" width="1" height="33.8" fill="#f29c50"/>
<rect x="288" y="330.2" width="1" height="4.8" fill="#f29d51"/>
<rect x="288" y="325.4" width="1" height="4.8" fill="#f9ddd9"/>
<rect x="289" y="339.9" width="1" height="29.0" fill="#dab356"/>
<rect x="289" y="330.2" width="1" height="9.7" fill="#f6c4a9"/>
<rect x="289" y="325.4" width="1" height="4.8" fill="#f9d8d4"/>
<rect x="290" y="344.7" width="1" height="24.2" fill="#e8724f"/>
<rect x="290" y="330.2" width="1" height="14.5" fill="#e87250"/>
<rect x="290" y="325.4" width="1" height="4.8" fill="#eb8476"/>
<rect x="291" y="354.4" width="1" height="14.5" fill="#c8c564"/>
<rect x="291" y="344.7" width="1" height="9.7" fill="#ccc665"/>
<rect x="291" y="335.1" width="1" height="9.7" fill="#f8dbaa"/>
<rect x="291" y="325.4" width="1" height="9.7" fill="#fae1de"/>
<rect x="292" y="364.1" width="1" height="4.8" fill="#8bb7c4"/>
<rect x="292" y="354.4" width="1" height="9.7" fill="#c5e4d8"/>
<rect x="292" y="335.1" width="1" height="19.3" fill="#fefce5"/>
<rect x="293" y="364.1" width="1" height="4.8" fill="#97bba4"/>
<rect x="293" y="354.4" width="1" height="9.7" fill="#abcbab"/>
<rect x="293" y="344.7" width="1" height="9.7" fill="#d9deb5"/>
<rect x="293" y="325.4" width="1" height="19.3" fill="#fcefed"/>
<rect x="294" y="344.7" width="1" height="24.2" fill="#e7a455"/>
<rect x="294" y="335.1" width="1" height="9.7" fill="#efa862"/>
<rect x="294" y="325.4" width="1" height="9.7" fill="#f2b0a7"/>
<rect x="295" y="335.1" width="1" height="33.8" fill="#ed8a50"/>
<rect x="295" y="330.2" width="1" height="4.8" fill="#ee8b59"/>
<rect x="295" y="325.4" width="1" height="4.8" fill="#f2b0a7"/>
<rect x="296" y="359.2" width="1" height="9.7" fill="#c0ac71"/>
<rect x="296" y="339.9" width="1" height="19.3" fill="#ddbe78"/>
<rect x="296" y="330.2" width="1" height="9.7" fill="#f7cdc6"/>
<rect x="296" y="325.4" width="1" height="4.8" fill="#f7cfca"/>
<rect x="297" y="359.2" width="1" height="9.7" fill="#bdb38c"/>
<rect x="297" y="349.6" width="1" height="9.7" fill="#e3cc96"/>
<rect x="297" y="330.2" width="1" height="19.3" fill="#fad5a7"/>
<rect x="298" y="349.6" width="1" height="19.3" fill="#b4d975"/>
<rect x="298" y="344.7" width="1" height="4.8" fill="#cbe386"/>
<rect x="298" y="339.9" width="1" height="4.8" fill="#e4eead"/>
<rect x="299" y="354.4" width="1" height="14.5" fill="#97d2bc"/>
<rect x="299" y="349.6" width="1" height="4.8" fill="#cde9c8"/>
<rect x="299" y="344.7" width="1" height="4.8" fill="#ebf5dd"/>
<rect x="299" y="339.9" width="1" height="4.8" fill="#fefefc"/>
<rect x="300" y="364.1" width="1" height="4.8" fill="#a7d29e"/>
<rect x="300" y="354.4" width="1" height="9.7" fill="#b0d9a1"/>
<rect x="300" y="349.6" width="1" height="4.8" fill="#d6e9aa"/>
<rect x="300" y="339.9" width="1" height="9.7" fill="#e7f0b6"/>
<rect x="301" y="364.1" width="1" height="4.8" fill="#7aa8a9"/>
<rect x="301" y="354.4" width="1" height="9.7" fill="#cde8c6"/>
<rect x="301" y="344.7" width="1" height="9.7" fill="#ddefc9"/>
<rect x="302" y="364.1" width="1" height="4.8" fill="#8fb194"/>
<rect x="302" y="359.2" width="1" height="4.8" fill="#cfe2aa"/>
<rect x="302" y="344.7" width="1" height="14.5" fill="#e0edaf"/>
<rect x="302" y="339.9" width="1" height="4.8" fill="#eaf2bf"/>
<rect x="303" y="359.2" width="1" height="9.7" fill="#7dafbf"/>
<rect x="303" y="344.7" width="1" height="14.5" fill="#edf6dd"/>
<rect x="303" y="339.9" width="1" height="4.8" fill="#fbfdf3"/>
<rect x="304" y="359.2" width="1" height="9.7" fill="#c1cf63"/>
<rect x="304" y="344.7" width="1" height="14.5" fill="#c6d265"/>
<rect x="304" y="339.9" width="1" height="4.8" fill="#e4e194"/>
<rect x="304" y="330.2" width="1" height="9.7" fill="#fdf0df"/>
<rect x="305" y="354.4" width="1" height="14.5" fill="#aec6b0"/>
<rect x="305" y="349.6" width="1" height="4.8" fill="#e6debc"/>
<rect x="305" y="339.9" width="1" height="9.7" fill="#fce7cc"/>
<rect x="305" y="330.2" width="1" height="9.7" fill="#fce8cd"/>
<rect x="306" y="359.2" width="1" height="9.7" fill="#a8ce90"/>
<rect x="306" y="349.6" width="1" height="9.7" fill="#cbe49a"/>
<rect x="306" y="339.9" width="1" height="9.7" fill="#e3eeab"/>
<rect x="307" y="364.1" width="1" height="4.8" fill="#5e87c9"/>
<rect x="307" y="359.2" width="1" height="4.8" fill="#dfebf6"/>
<rect x="307" y="344.7" width="1" height="14.5" fill="#fefffe"/>
<rect x="308" y="364.1" width="1" height="4.8" fill="#81b0a1"/>
<rect x="308" y="359.2" width="1" height="4.8" fill="#a6cdae"/>
<rect x="308" y="344.7" width="1" height="14.5" fill="#d3eaba"/>
<rect x="309" y="364.1" width="1" height="4.8" fill="#9fb19a"/>
<rect x="309" y="359.2" width="1" height="4.8" fill="#e6e9b3"/>
<rect x="309" y="335.1" width="1" height="24.2" fill="#fcf7b9"/>
<rect x="310" y="354.4" width="1" height="14.5" fill="#c6de97"/>
<rect x="310" y="349.6" width="1" height="4.8" fill="#f1f0a1"/>
<rect x="310" y="335.1" width="1" height="14.5" fill="#fcf5a8"/>
<rect x="311" y="364.1" width="1" height="4.8" fill="#85b2b4"/>
<rect x="311" y="354.4" width="1" height="9.7" fill="#c9e7cc"/>
<rect x="311" y="349.6" width="1" height="4.8" fill="#d3ebce"/>
<rect x="311" y="339.9" width="1" height="9.7" fill="#f8fbe9"/>
<rect x="312" y="364.1" width="1" height="4.8" fill="#cedc77"/>
<rect x="312" y="354.4" width="1" height="9.7" fill="#d7e37a"/>
<rect x="312" y="339.9" width="1" height="14.5" fill="#eaeb7f"/>
<rect x="312" y="335.1" width="1" height="4.8" fill="#fcf6b5"/>
<rect x="313" y="354.4" width="1" height="14.5" fill="#a5d5c6"/>
<rect x="313" y="335.1" width="1" height="19.3" fill="#fefbda"/>
<rect x="314" y="339.9" width="1" height="29.0" fill="#d5e25b"/>
<rect x="314" y="335.1" width="1" height="4.8" fill="#fdfad3"/>
<rect x="315" y="339.9" width="1" height="29.0" fill="#e39252"/>
<rect x="315" y="330.2" width="1" height="9.7" fill="#ef9978"/>
<rect x="315" y="325.4" width="1" height="4.8" fill="#f2afa6"/>
<rect x="316" y="354.4" width="1" height="14.5" fill="#b1ca68"/>
<rect x="316" y="344.7" width="1" height="9.7" fill="#b4cb69"/>
<rect x="316" y="330.2" width="1" height="14.5" fill="#fdeedc"/>
<rect x="317" y="354.4" width="1" height="14.5" fill="#9acbb9"/>
<rect x="317" y="349.6" width="1" height="4.8" fill="#cde1c4"/>
<rect x="317" y="344.7" width="1" height="4.8" fill="#eeefdc"/>
<rect x="317" y="325.4" width="1" height="19.3" fill="#fef6f5"/>
<rect x="318" y="364.1" width="1" height="4.8" fill="#b69c71"/>
<rect x="318" y="349.6" width="1" height="14.5" fill="#c4a876"/>
<rect x="318" y="344.7" width="1" height="4.8" fill="#d2ad80"/>
<rect x="318" y="325.4" width="1" height="19.3" fill="#f4beb6"/>
<rect x="319" y="364.1" width="1" height="4.8" fill="#6691bf"/>
<rect x="319" y="354.4" width="1" height="9.7" fill="#e8f5ec"/>
<rect x="319" y="344.7" width="1" height="9.7" fill="#f5faef"/>
<rect x="320" y="364.1" width="1" height="4.8" fill="#81bdde"/>
<rect x="320" y="354.4" width="1" height="9.7" fill="#a7d9eb"/>
<rect x="321" y="364.1" width="1" height="4.8" fill="#7aa4bc"/>
<rect x="321" y="359.2" width="1" height="4.8" fill="#aecdce"/>
<rect x="321" y="354.4" width="1" height="4.8" fill="#f0f7e0"/>
<rect x="321" y="339.9" width="1" height="14.5" fill="#f5f9e1"/>
<rect x="322" y="364.1" width="1" height="4.8" fill="#92c1b7"/>
<rect x="322" y="359.2" width="1" height="4.8" fill="#b6ddc4"/>
<rect x="322" y="354.4" width="1" height="4.8" fill="#b8dec4"/>
<rect x="322" y="339.9" width="1" height="14.5" fill="#f0f6d1"/>
<rect x="323" y="364.1" width="1" height="4.8" fill="#597ec5"/>
<rect x="324" y="364.1" width="1" height="4.8" fill="#8bbfa2"/>
<rect x="324" y="354.4" width="1" height="9.7" fill="#b0dbae"/>
<rect x="324" y="344.7" width="1" height="9.7" fill="#d0e9b6"/>
<rect x="325" y="364.1" width="1" height="4.8" fill="#8bcce4"/>
<rect x="325" y="354.4" width="1" height="9.7" fill="#91d0e7"/>
<rect x="326" y="364.1" width="1" height="4.8" fill="#618bca"/>
<rect x="326" y="354.4" width="1" height="9.7" fill="#eef8fb"/>
<rect x="327" y="364.1" width="1" height="4.8" fill="#74a3c1"/>
<rect x="327" y="359.2" width="1" height="4.8" fill="#cae6df"/>
<rect x="327" y="349.6" width="1" height="9.7" fill="#d9efe3"/>
<rect x="328" y="359.2" width="1" height="9.7" fill="#becf8f"/>
<rect x="328" y="349.6" width="1" height="9.7" fill="#f3f19d"/>
<rect x="328" y="335.1" width="1" height="14.5" fill="#fbf4a3"/>
<rect x="329" y="364.1" width="1" height="4.8" fill="#a3b78b"/>
<rect x="329" y="344.7" width="1" height="19.3" fill="#edf0a5"/>
<rect x="329" y="335.1" width="1" height="9.7" fill="#fcf7be"/>
<rect x="330" y="364.1" width="1" height="4.8" fill="#d7c55e"/>
<rect x="330" y="344.7" width="1" height="19.3" fill="#dac85f"/>
<rect x="330" y="335.1" width="1" height="9.7" fill="#f7d68c"/>
<rect x="330" y="325.4" width="1" height="9.7" fill="#fadfdc"/>
<rect x="331" y="325.4" width="1" height="43.5" fill="#e5614f"/>
<rect x="332" y="335.1" width="1" height="33.8" fill="#f2ab52"/>
<rect x="332" y="330.2" width="1" height="4.8" fill="#f4b07e"/>
<rect x="332" y="325.4" width="1" height="4.8" fill="#f9dad6"/>
<rect x="333" y="354.4" width="1" height="14.5" fill="#f4ba55"/>
<rect x="333" y="335.1" width="1" height="19.3" fill="#f6bb56"/>
<rect x="333" y="330.2" width="1" height="4.8" fill="#f7bf77"/>
<rect x="334" y="354.4" width="1" height="14.5" fill="#a0c9c6"/>
<rect x="334" y="344.7" width="1" height="9.7" fill="#f8efd9"/>
<rect x="334" y="330.2" width="1" height="14.5" fill="#fdf1e1"/>
<rect x="335" y="354.4" width="1" height="14.5" fill="#b0d775"/>
<rect x="335" y="344.7" width="1" height="9.7" fill="#c0de78"/>
<rect x="335" y="339.9" width="1" height="4.8" fill="#e7f0b5"/>
<rect x="336" y="344.7" width="1" height="24.2" fill="#b9d962"/>
<rect x="336" y="339.9" width="1" height="4.8" fill="#deeb9c"/>
<rect x="337" y="344.7" width="1" height="24.2" fill="#dae35b"/>
<rect x="337" y="339.9" width="1" height="4.8" fill="#e1e666"/>
<rect x="337" y="335.1" width="1" height="4.8" fill="#fcf7b7"/>
<rect x="338" y="364.1" width="1" height="4.8" fill="#b6cd6f"/>
<rect x="338" y="339.9" width="1" height="24.2" fill="#d5e57a"/>
<rect x="338" y="335.1" width="1" height="4.8" fill="#fffef8"/>
<rect x="339" y="364.1" width="1" height="4.8" fill="#9dc1a5"/>
<rect x="339" y="349.6" width="1" height="14.5" fill="#cce6b6"/>
<rect x="339" y="339.9" width="1" height="9.7" fill="#fdfbda"/>
<rect x="339" y="335.1" width="1" height="4.8" fill="#fefbdb"/>
<rect x="340" y="364.1" width="1" height="4.8" fill="#9ac2bb"/>
<rect x="340" y="354.4" width="1" height="9.7" fill="#c3e1c9"/>
<rect x="340" y="335.1" width="1" height="19.3" fill="#fdfad6"/>
<rect x="341" y="364.1" width="1" height="4.8" fill="#597fc5"/>
<rect x="341" y="349.6" width="1" height="14.5" fill="#feffff"/>
<rect x="342" y="364.1" width="1" height="4.8" fill="#abb899"/>
<rect x="342" y="349.6" width="1" height="14.5" fill="#cad0a4"/>
<rect x="342" y="330.2" width="1" height="19.3" fill="#fce5c8"/>
<rect x="343" y="349.6" width="1" height="19.3" fill="#c0d480"/>
<rect x="343" y="339.9" width="1" height="9.7" fill="#eae6a0"/>
<rect x="343" y="335.1" width="1" height="4.8" fill="#fdf1d8"/>
<rect x="343" y="330.2" width="1" height="4.8" fill="#fdf2e4"/>
<rect x="344" y="349.6" width="1" height="19.3" fill="#c8de69"/>
<rect x="344" y="344.7" width="1" height="4.8" fill="#d2e271"/>
<rect x="344" y="339.9" width="1" height="4.8" fill="#f6f3a9"/>
<rect x="344" y="335.1" width="1" height="4.8" fill="#fcf7bd"/>
<rect x="345" y="349.6" width="1" height="19.3" fill="#cfe17c"/>
<rect x="345" y="344.7" width="1" height="4.8" fill="#f3f096"/>
<rect x="345" y="335.1" width="1" height="9.7" fill="#fbf4a3"/>
<rect x="346" y="364.1" width="1" height="4.8" fill="#b6ce73"/>
<rect x="346" y="344.7" width="1" height="19.3" fill="#d3e37c"/>
<rect x="346" y="335.1" width="1" height="9.7" fill="#fcf7be"/>
<rect x="347" y="364.1" width="1" height="4.8" fill="#9ac0a6"/>
<rect x="347" y="349.6" width="1" height="14.5" fill="#cce6b7"/>
<rect x="347" y="344.7" width="1" height="4.8" fill="#fcfada"/>
<rect x="347" y="335.1" width="1" height="9.7" fill="#fefbdd"/>
<rect x="348" y="364.1" width="1" height="4.8" fill="#d3d271"/>
<rect x="348" y="335.1" width="1" height="29.0" fill="#faf07e"/>
<rect x="349" y="364.1" width="1" height="4.8" fill="#9dc4b9"/>
<rect x="349" y="354.4" width="1" height="9.7" fill="#c4e1c6"/>
<rect x="349" y="335.1" width="1" height="19.3" fill="#fdfad3"/>
<rect x="350" y="359.2" width="1" height="9.7" fill="#9cc09b"/>
<rect x="350" y="344.7" width="1" height="14.5" fill="#e1ecad"/>
<rect x="350" y="335.1" width="1" height="9.7" fill="#fdf9d9"/>
<rect x="350" y="330.2" width="1" height="4.8" fill="#fffdfb"/>
<rect x="351" y="344.7" width="1" height="24.2" fill="#e6ae55"/>
<rect x="351" y="330.2" width="1" height="14.5" fill="#f6b66e"/>
<rect x="351" y="325.4" width="1" height="4.8" fill="#fef6f5"/>
<rect x="352" y="354.4" width="1" height="14.5" fill="#c99a86"/>
<rect x="352" y="330.2" width="1" height="24.2" fill="#f2ab8f"/>
<rect x="352" y="325.4" width="1" height="4.8" fill="#f4beb6"/>
<rect x="353" y="354.4" width="1" height="14.5" fill="#c7c088"/>
<rect x="353" y="349.6" width="1" height="4.8" fill="#d3c58b"/>
<rect x="353" y="330.2" width="1" height="19.3" fill="#fad6a8"/>
<rect x="354" y="349.6" width="1" height="19.3" fill="#dcc55d"/>
<rect x="354" y="339.9" width="1" height="9.7" fill="#e3c862"/>
<rect x="354" y="330.2" width="1" height="9.7" fill="#fad6a8"/>
<rect x="355" y="349.6" width="1" height="19.3" fill="#e4d367"/>
<rect x="355" y="339.9" width="1" height="9.7" fill="#f7db75"/>
<rect x="355" y="335.1" width="1" height="4.8" fill="#f9dc7b"/>
<rect x="355" y="330.2" width="1" height="4.8" fill="#fce5c8"/>
<rect x="356" y="349.6" width="1" height="19.3" fill="#c6d173"/>
<rect x="356" y="339.9" width="1" height="9.7" fill="#e2dd87"/>
<rect x="356" y="335.1" width="1" height="4.8" fill="#fdedd8"/>
<rect x="356" y="330.2" width="1" height="4.8" fill="#fdedd9"/>
<rect x="357" y="364.1" width="1" height="4.8" fill="#a6a48e"/>
<rect x="357" y="335.1" width="1" height="29.0" fill="#fbe6ac"/>
<rect x="357" y="330.2" width="1" height="4.8" fill="#fdebd4"/>
<rect x="358" y="354.4" width="1" height="14.5" fill="#aad6a3"/>
<rect x="358" y="344.7" width="1" height="9.7" fill="#e3eeb0"/>
<rect x="358" y="339.9" width="1" height="4.8" fill="#fdfbda"/>
<rect x="358" y="335.1" width="1" height="4.8" fill="#fefbdb"/>
<rect x="359" y="364.1" width="1" height="4.8" fill="#a0be7f"/>
<rect x="359" y="344.7" width="1" height="19.3" fill="#d4e792"/>
<rect x="359" y="339.9" width="1" height="4.8" fill="#e6efad"/>
<rect x="359" y="335.1" width="1" height="4.8" fill="#fffef8"/>
<rect x="360" y="364.1" width="1" height="4.8" fill="#e0d668"/>
<rect x="360" y="335.1" width="1" height="29.0" fill="#f9ea71"/>
<rect x="360" y="330.2" width="1" height="4.8" fill="#fef9f2"/>
<rect x="361" y="339.9" width="1" height="29.0" fill="#eb9c52"/>
<rect x="361" y="335.1" width="1" height="4.8" fill="#f0a063"/>
<rect x="361" y="330.2" width="1" height="4.8" fill="#f1a277"/>
<rect x="361" y="325.4" width="1" height="4.8" fill="#f5c3bc"/>
<rect x="362" y="339.9" width="1" height="29.0" fill="#e4b854"/>
<rect x="362" y="330.2" width="1" height="9.7" fill="#f7c490"/>
<rect x="362" y="325.4" width="1" height="4.8" fill="#fdf1f0"/>
<rect x="363" y="330.2" width="1" height="38.7" fill="#ee8b50"/>
<rect x="363" y="325.4" width="1" height="4.8" fill="#f3b9b1"/>
<rect x="364" y="344.7" width="1" height="24.2" fill="#dc8e55"/>
<rect x="364" y="330.2" width="1" height="14.5" fill="#ef9773"/>
<rect x="364" y="325.4" width="1" height="4.8" fill="#f2b0a7"/>
<rect x="365" y="344.7" width="1" height="24.2" fill="#d79f58"/>
<rect x="365" y="335.1" width="1" height="9.7" fill="#f0ab7f"/>
<rect x="365" y="325.4" width="1" height="9.7" fill="#f2afa6"/>
<rect x="366" y="339.9" width="1" height="29.0" fill="#eac855"/>
<rect x="366" y="335.1" width="1" height="4.8" fill="#f9d180"/>
<rect x="366" y="330.2" width="1" height="4.8" fill="#fad5a7"/>
<rect x="367" y="359.2" width="1" height="9.7" fill="#82b0bf"/>
<rect x="367" y="349.6" width="1" height="9.7" fill="#f2f7dd"/>
<rect x="367" y="339.9" width="1" height="9.7" fill="#f4f8de"/>
<rect x="368" y="359.2" width="1" height="9.7" fill="#a1cda0"/>
<rect x="368" y="349.6" width="1" height="9.7" fill="#c1e2a8"/>
<rect x="368" y="339.9" width="1" height="9.7" fill="#edf4c9"/>
<rect x="369" y="359.2" width="1" height="9.7" fill="#87acbc"/>
<rect x="369" y="339.9" width="1" height="19.3" fill="#f7f3d9"/>
<rect x="369" y="330.2" width="1" height="9.7" fill="#fef8f0"/>
<rect x="370" y="359.2" width="1" height="9.7" fill="#e9cc62"/>
<rect x="370" y="335.1" width="1" height="24.2" fill="#f8d566"/>
<rect x="370" y="330.2" width="1" height="4.8" fill="#fbe0bd"/>
<rect x="371" y="344.7" width="1" height="24.2" fill="#ccde60"/>
<rect x="371" y="339.9" width="1" height="4.8" fill="#f4f2a0"/>
<rect x="371" y="335.1" width="1" height="4.8" fill="#fcf7b9"/>
<rect x="372" y="344.7" width="1" height="24.2" fill="#d0e05c"/>
<rect x="372" y="339.9" width="1" height="4.8" fill="#d4e261"/>
<rect x="372" y="335.1" width="1" height="4.8" fill="#fefbe0"/>
<rect x="373" y="339.9" width="1" height="29.0" fill="#f6be52"/>
<rect x="373" y="335.1" width="1" height="4.8" fill="#f6be53"/>
<rect x="373" y="330.2" width="1" height="4.8" fill="#f8c483"/>
<rect x="374" y="344.7" width="1" height="24.2" fill="#b5c964"/>
<rect x="374" y="330.2" width="1" height="14.5" fill="#fdebd5"/>
<rect x="375" y="344.7" width="1" height="24.2" fill="#e3c758"/>
<rect x="375" y="339.9" width="1" height="4.8" fill="#f8d078"/>
<rect x="375" y="335.1" width="1" height="4.8" fill="#f8d17a"/>
<rect x="375" y="330.2" width="1" height="4.8" fill="#fad6a9"/>
<rect x="376" y="344.7" width="1" height="24.2" fill="#dfe45a"/>
<rect x="376" y="339.9" width="1" height="4.8" fill="#e3e660"/>
<rect x="376" y="335.1" width="1" height="4.8" fill="#fcf5ab"/>
<rect x="377" y="344.7" width="1" height="24.2" fill="#cddf61"/>
<rect x="377" y="335.1" width="1" height="9.7" fill="#fcf5ab"/>
<rect x="378" y="344.7" width="1" height="24.2" fill="#cead5c"/>
<rect x="378" y="335.1" width="1" height="9.7" fill="#f4be96"/>
<rect x="378" y="325.4" width="1" height="9.7" fill="#f5c3bc"/>
<rect x="379" y="339.9" width="1" height="29.0" fill="#e3d158"/>
<rect x="379" y="335.1" width="1" height="4.8" fill="#f9df9b"/>
<rect x="379" y="330.2" width="1" height="4.8" fill="#fbe6d8"/>
<rect x="379" y="325.4" width="1" height="4.8" fill="#fdf1f0"/>
<rect x="380" y="359.2" width="1" height="9.7" fill="#c8c46d"/>
<rect x="380" y="339.9" width="1" height="19.3" fill="#e1d374"/>
<rect x="380" y="330.2" width="1" height="9.7" fill="#fce4c5"/>
<rect x="381" y="359.2" width="1" height="9.7" fill="#88c3d5"/>
<rect x="381" y="354.4" width="1" height="4.8" fill="#b3dfe1"/>
<rect x="381" y="349.6" width="1" height="4.8" fill="#eaf6ed"/>
<rect x="381" y="339.9" width="1" height="9.7" fill="#fefefb"/>
<rect x="382" y="364.1" width="1" height="4.8" fill="#75a8cb"/>
<rect x="382" y="359.2" width="1" height="4.8" fill="#9cc6d8"/>
<rect x="382" y="349.6" width="1" height="9.7" fill="#e5f4ec"/>
<rect x="383" y="364.1" width="1" height="4.8" fill="#bccb76"/>
<rect x="383" y="344.7" width="1" height="19.3" fill="#e3e983"/>
<rect x="383" y="335.1" width="1" height="9.7" fill="#fcf5ab"/>
<rect x="384" y="359.2" width="1" height="9.7" fill="#a6ca84"/>
<rect x="384" y="344.7" width="1" height="14.5" fill="#d1e690"/>
<rect x="384" y="339.9" width="1" height="4.8" fill="#e4efad"/>
<rect x="385" y="359.2" width="1" height="9.7" fill="#bad471"/>
<rect x="385" y="339.9" width="1" height="19.3" fill="#d2e477"/>
<rect x="386" y="339.9" width="1" height="29.0" fill="#cdda5b"/>
<rect x="386" y="330.2" width="1" height="9.7" fill="#fef8f0"/>
<rect x="387" y="359.2" width="1" height="9.7" fill="#cfc467"/>
<rect x="387" y="339.9" width="1" height="19.3" fill="#e0cf6b"/>
<rect x="387" y="330.2" width="1" height="9.7" fill="#fbe0bd"/>
<rect x="388" y="359.2" width="1" height="9.7" fill="#7aaed2"/>
<rect x="388" y="354.4" width="1" height="4.8" fill="#eaf5f0"/>
<rect x="388" y="339.9" width="1" height="14.5" fill="#fbfdf4"/>
<rect x="389" y="359.2" width="1" height="9.7" fill="#abd58f"/>
<rect x="389" y="354.4" width="1" height="4.8" fill="#b1d890"/>
<rect x="389" y="344.7" width="1" height="9.7" fill="#d4e798"/>
<rect x="389" y="339.9" width="1" height="4.8" fill="#e6f0b4"/>
<rect x="390" y="354.4" width="1" height="14.5" fill="#a0d3a4"/>
<rect x="390" y="344.7" width="1" height="9.7" fill="#d8ebb1"/>
<rect x="390" y="339.9" width="1" height="4.8" fill="#f3f8da"/>
<rect x="391" y="339.9" width="1" height="29.0" fill="#d5e15b"/>
<rect x="391" y="335.1" width="1" height="4.8" fill="#fdfad6"/>
<rect x="392" y="354.4" width="1" height="14.5" fill="#c3dc9d"/>
<rect x="392" y="335.1" width="1" height="19.3" fill="#fcf4aa"/>
<rect x="392" y="325.4" width="1" height="9.7" fill="#fffefe"/>
<rect x="393" y="335.1" width="1" height="33.8" fill="#e87a50"/>
<rect x="393" y="325.4" width="1" height="9.7" fill="#ea7e6f"/>
<rect x="394" y="339.9" width="1" height="29.0" fill="#e36a50"/>
<rect x="394" y="325.4" width="1" height="14.5" fill="#e76c5c"/>
<rect x="395" y="339.9" width="1" height="29.0" fill="#da9254"/>
<rect x="395" y="325.4" width="1" height="14.5" fill="#ef9f94"/>
<rect x="396" y="344.7" width="1" height="24.2" fill="#d0a458"/>
<rect x="396" y="339.9" width="1" height="4.8" fill="#ddaa6c"/>
<rect x="396" y="325.4" width="1" height="14.5" fill="#f3b8b0"/>
<rect x="397" y="344.7" width="1" height="24.2" fill="#d7bb5a"/>
<rect x="397" y="339.9" width="1" height="4.8" fill="#f6ca8b"/>
<rect x="397" y="330.2" width="1" height="9.7" fill="#f9cc93"/>
<rect x="398" y="330.2" width="1" height="38.7" fill="#ea794f"/>
<rect x="398" y="325.4" width="1" height="4.8" fill="#ed9387"/>
<rect x="399" y="354.4" width="1" height="14.5" fill="#a9b3a1"/>
<rect x="399" y="344.7" width="1" height="9.7" fill="#e2cbae"/>
<rect x="399" y="325.4" width="1" height="19.3" fill="#f8d6d1"/>
<rect x="400" y="344.7" width="1" height="24.2" fill="#c3995d"/>
<rect x="400" y="325.4" width="1" height="19.3" fill="#f2afa6"/>
<rect x="401" y="344.7" width="1" height="24.2" fill="#e5d059"/>
<rect x="401" y="335.1" width="1" height="9.7" fill="#f8d977"/>
<rect x="401" y="330.2" width="1" height="4.8" fill="#fbe2c6"/>
<rect x="401" y="325.4" width="1" height="4.8" fill="#fefbfb"/>
<rect x="402" y="335.1" width="1" height="33.8" fill="#e9754f"/>
<rect x="402" y="330.2" width="1" height="4.8" fill="#e97659"/>
<rect x="402" y="325.4" width="1" height="4.8" fill="#eb8476"/>
<rect x="403" y="344.7" width="1" height="24.2" fill="#d5ca5d"/>
<rect x="403" y="335.1" width="1" height="9.7" fill="#f8da93"/>
<rect x="403" y="330.2" width="1" height="4.8" fill="#fbe2d8"/>
<rect x="403" y="325.4" width="1" height="4.8" fill="#fbeae7"/>
<rect x="404" y="354.4" width="1" height="14.5" fill="#bec490"/>
<rect x="404" y="344.7" width="1" height="9.7" fill="#ebd79a"/>
<rect x="404" y="339.9" width="1" height="4.8" fill="#f5dca9"/>
<rect x="404" y="330.2" width="1" height="9.7" fill="#fbe0bd"/>
<rect x="405" y="354.4" width="1" height="14.5" fill="#e0e563"/>
<rect x="405" y="339.9" width="1" height="14.5" fill="#e8e865"/>
<rect x="405" y="335.1" width="1" height="4.8" fill="#fbf49d"/>
<rect x="406" y="354.4" width="1" height="14.5" fill="#c7de99"/>
<rect x="406" y="335.1" width="1" height="19.3" fill="#fbf4a5"/>
<rect x="407" y="354.4" width="1" height="14.5" fill="#c2dc63"/>
<rect x="407" y="344.7" width="1" height="9.7" fill="#c3dc63"/>
<rect x="407" y="339.9" width="1" height="4.8" fill="#f1f2ac"/>
<rect x="407" y="335.1" width="1" height="4.8" fill="#fdf9d0"/>
<rect x="408" y="354.4" width="1" height="14.5" fill="#9fd4b8"/>
<rect x="408" y="349.6" width="1" height="4.8" fill="#daedc6"/>
<rect x="408" y="339.9" width="1" height="9.7" fill="#f2f7d7"/>
<rect x="409" y="364.1" width="1" height="4.8" fill="#9ec18e"/>
<rect x="409" y="359.2" width="1" height="4.8" fill="#cee59f"/>
<rect x="409" y="349.6" width="1" height="9.7" fill="#cfe69f"/>
<rect x="409" y="339.9" width="1" height="9.7" fill="#e4efaf"/>
<rect x="410" y="364.1" width="1" height="4.8" fill="#7eadc4"/>
<rect x="410" y="359.2" width="1" height="4.8" fill="#9dc4cf"/>
<rect x="410" y="349.6" width="1" height="9.7" fill="#dfeee1"/>
<rect x="410" y="330.2" width="1" height="19.3" fill="#fffcf8"/>
<rect x="411" y="349.6" width="1" height="19.3" fill="#e8b760"/>
<rect x="411" y="335.1" width="1" height="14.5" fill="#f7bd6b"/>
<rect x="411" y="330.2" width="1" height="4.8" fill="#f7bf77"/>
<rect x="412" y="335.1" width="1" height="33.8" fill="#f8dd56"/>
<rect x="412" y="330.2" width="1" height="4.8" fill="#fdecd8"/>
<rect x="413" y="344.7" width="1" height="24.2" fill="#eab755"/>
<rect x="413" y="335.1" width="1" height="9.7" fill="#f7bd69"/>
<rect x="413" y="330.2" width="1" height="4.8" fill="#f7bf77"/>
<rect x="414" y="344.7" width="1" height="24.2" fill="#d8c85c"/>
<rect x="414" y="335.1" width="1" height="9.7" fill="#f7d78d"/>
<rect x="414" y="330.2" width="1" height="4.8" fill="#fae0d8"/>
<rect x="414" y="325.4" width="1" height="4.8" fill="#fbe4e1"/>
<rect x="415" y="335.1" width="1" height="33.8" fill="#e5644f"/>
<rect x="415" y="325.4" width="1" height="9.7" fill="#e56452"/>
<rect x="416" y="344.7" width="1" height="24.2" fill="#c29a5d"/>
<rect x="416" y="325.4" width="1" height="19.3" fill="#f2b1a8"/>
<rect x="417" y="354.4" width="1" height="14.5" fill="#bfbd7d"/>
<rect x="417" y="339.9" width="1" height="14.5" fill="#deca84"/>
<rect x="417" y="325.4" width="1" height="14.5" fill="#f9dbd6"/>
<rect x="418" y="359.2" width="1" height="9.7" fill="#d1e078"/>
<rect x="418" y="354.4" width="1" height="4.8" fill="#d5e279"/>
<rect x="418" y="339.9" width="1" height="14.5" fill="#ecec7e"/>
<rect x="418" y="335.1" width="1" height="4.8" fill="#fcf6af"/>
<rect x="419" y="364.1" width="1" height="4.8" fill="#87b9c7"/>
<rect x="419" y="359.2" width="1" height="4.8" fill="#90c1ca"/>
<rect x="419" y="354.4" width="1" height="4.8" fill="#d0e9db"/>
<rect x="419" y="339.9" width="1" height="14.5" fill="#f6fae4"/>
<rect x="420" y="364.1" width="1" height="4.8" fill="#84b09f"/>
<rect x="420" y="354.4" width="1" height="9.7" fill="#c8e5b7"/>
<rect x="420" y="344.7" width="1" height="9.7" fill="#d8ecba"/>
<rect x="420" y="339.9" width="1" height="4.8" fill="#fafcf0"/>
<rect x="421" y="354.4" width="1" height="14.5" fill="#d0e06d"/>
<rect x="421" y="344.7" width="1" height="9.7" fill="#dee670"/>
<rect x="421" y="339.9" width="1" height="4.8" fill="#e8eb7f"/>
<rect x="421" y="335.1" width="1" height="4.8" fill="#fcf7bc"/>
<rect x="422" y="354.4" width="1" height="14.5" fill="#a6d491"/>
<rect x="422" y="344.7" width="1" height="9.7" fill="#cee59a"/>
<rect x="422" y="339.9" width="1" height="4.8" fill="#f6f9da"/>
<rect x="422" y="335.1" width="1" height="4.8" fill="#fffef3"/>
<rect x="423" y="359.2" width="1" height="9.7" fill="#a2cf9d"/>
<rect x="423" y="349.6" width="1" height="9.7" fill="#bde0a5"/>
<rect x="423" y="344.7" width="1" height="4.8" fill="#ebf3c6"/>
<rect x="423" y="339.9" width="1" height="4.8" fill="#eef5cc"/>
<rect x="424" y="364.1" width="1" height="4.8" fill="#5f89ca"/>
<rect x="424" y="359.2" width="1" height="4.8" fill="#d6e5f4"/>
<rect x="425" y="364.1" width="1" height="4.8" fill="#597ec5"/>
<rect x="426" y="364.1" width="1" height="4.8" fill="#6d96ab"/>
<rect x="426" y="359.2" width="1" height="4.8" fill="#e3f1d4"/>
<rect x="426" y="344.7" width="1" height="14.5" fill="#e4f2d5"/>
<rect x="427" y="359.2" width="1" height="9.7" fill="#87bdba"/>
<rect x="427" y="354.4" width="1" height="4.8" fill="#cae8cc"/>
<rect x="427" y="349.6" width="1" height="4.8" fill="#cee9cd"/>
<rect x="427" y="344.7" width="1" height="4.8" fill="#eef7e4"/>
<rect x="428" y="364.1" width="1" height="4.8" fill="#7db4d3"/>
<rect x="428" y="354.4" width="1" height="9.7" fill="#b7e1e7"/>
<rect x="428" y="349.6" width="1" height="4.8" fill="#f0f9f4"/>
<rect x="429" y="364.1" width="1" height="4.8" fill="#81bdde"/>
<rect x="429" y="354.4" width="1" height="9.7" fill="#a7d9eb"/>
<rect x="430" y="364.1" width="1" height="4.8" fill="#79a9c1"/>
<rect x="430" y="354.4" width="1" height="9.7" fill="#cceadf"/>
<rect x="430" y="349.6" width="1" height="4.8" fill="#d6eee1"/>
<rect x="431" y="364.1" width="1" height="4.8" fill="#9abd93"/>
<rect x="431" y="349.6" width="1" height="14.5" fill="#d1e7a6"/>
<rect x="431" y="339.9" width="1" height="9.7" fill="#e7f0b6"/>
<rect x="432" y="349.6" width="1" height="19.3" fill="#9fd490"/>
<rect x="432" y="344.7" width="1" height="4.8" fill="#d1e9b4"/>
<rect x="432" y="339.9" width="1" height="4.8" fill="#fefefc"/>
<rect x="433" y="354.4" width="1" height="14.5" fill="#98d4c1"/>
<rect x="433" y="349.6" width="1" height="4.8" fill="#b3dfc7"/>
<rect x="434" y="359.2" width="1" height="9.7" fill="#83babe"/>
<rect x="434" y="354.4" width="1" height="4.8" fill="#cce8d2"/>
<rect x="434" y="344.7" width="1" height="9.7" fill="#e6f3d7"/>
<rect x="435" y="364.1" width="1" height="4.8" fill="#7da898"/>
<rect x="435" y="344.7" width="1" height="19.3" fill="#d0e8b5"/>
<rect x="436" y="364.1" width="1" height="4.8" fill="#709db7"/>
<rect x="436" y="359.2" width="1" height="4.8" fill="#bad6d1"/>
<rect x="436" y="344.7" width="1" height="14.5" fill="#eaf5de"/>
<rect x="437" y="364.1" width="1" height="4.8" fill="#8cc3ae"/>
<rect x="437" y="359.2" width="1" height="4.8" fill="#9bceb4"/>
<rect x="437" y="354.4" width="1" height="4.8" fill="#afdbb9"/>
<rect x="437" y="344.7" width="1" height="9.7" fill="#d8edc2"/>
<rect x="438" y="364.1" width="1" height="4.8" fill="#6f83ba"/>
<rect x="438" y="354.4" width="1" height="9.7" fill="#f0e7e7"/>
<rect x="438" y="325.4" width="1" height="29.0" fill="#fcece9"/>
<rect x="439" y="364.1" width="1" height="4.8" fill="#c1a964"/>
<rect x="439" y="344.7" width="1" height="19.3" fill="#ccb268"/>
<rect x="439" y="335.1" width="1" height="9.7" fill="#f5c5a8"/>
<rect x="439" y="325.4" width="1" height="9.7" fill="#f6c8c2"/>
<rect x="440" y="344.7" width="1" height="24.2" fill="#dca558"/>
<rect x="440" y="335.1" width="1" height="9.7" fill="#f1b079"/>
<rect x="440" y="325.4" width="1" height="9.7" fill="#f3b6ad"/>
<rect x="441" y="359.2" width="1" height="9.7" fill="#aacd7b"/>
<rect x="441" y="344.7" width="1" height="14.5" fill="#cae184"/>
<rect x="441" y="339.9" width="1" height="4.8" fill="#e4eead"/>
<rect x="441" y="325.4" width="1" height="14.5" fill="#fffefe"/>
<rect x="442" y="359.2" width="1" height="9.7" fill="#94c8c0"/>
<rect x="442" y="354.4" width="1" height="4.8" fill="#b7deca"/>
<rect x="442" y="339.9" width="1" height="14.5" fill="#f2f7d7"/>
<rect x="443" y="339.9" width="1" height="29.0" fill="#d6cf58"/>
<rect x="443" y="330.2" width="1" height="9.7" fill="#fce7cc"/>
<rect x="444" y="359.2" width="1" height="9.7" fill="#e2bc5a"/>
<rect x="444" y="339.9" width="1" height="19.3" fill="#e8c05b"/>
<rect x="444" y="330.2" width="1" height="9.7" fill="#f9ca8f"/>
<rect x="445" y="359.2" width="1" height="9.7" fill="#91bcc0"/>
<rect x="445" y="354.4" width="1" height="4.8" fill="#cee3d1"/>
<rect x="445" y="339.9" width="1" height="14.5" fill="#f6f4da"/>
<rect x="445" y="330.2" width="1" height="9.7" fill="#fef9f2"/>
<rect x="446" y="354.4" width="1" height="14.5" fill="#d8c366"/>
<rect x="446" y="339.9" width="1" height="14.5" fill="#e5c969"/>
<rect x="446" y="330.2" width="1" height="9.7" fill="#fad6a8"/>
<rect x="447" y="354.4" width="1" height="14.5" fill="#c6bf8f"/>
<rect x="447" y="339.9" width="1" height="14.5" fill="#f5d39a"/>
<rect x="447" y="330.2" width="1" height="9.7" fill="#fad6a8"/>
<rect x="448" y="364.1" width="1" height="4.8" fill="#d6c26f"/>
<rect x="448" y="354.4" width="1" height="9.7" fill="#f3d879"/>
<rect x="448" y="335.1" width="1" height="19.3" fill="#f9db7b"/>
<rect x="448" y="330.2" width="1" height="4.8" fill="#fce4c6"/>
<rect x="449" y="364.1" width="1" height="4.8" fill="#5c80c3"/>
<rect x="449" y="335.1" width="1" height="29.0" fill="#fffffc"/>
<rect x="450" y="364.1" width="1" height="4.8" fill="#82b19c"/>
<rect x="450" y="359.2" width="1" height="4.8" fill="#aed3ab"/>
<rect x="450" y="344.7" width="1" height="14.5" fill="#cfe8b4"/>
<rect x="451" y="364.1" width="1" height="4.8" fill="#6491cf"/>
<rect x="451" y="359.2" width="1" height="4.8" fill="#b7d1ec"/>
<rect x="452" y="359.2" width="1" height="9.7" fill="#a4cd7c"/>
<rect x="452" y="344.7" width="1" height="14.5" fill="#c1df83"/>
<rect x="452" y="339.9" width="1" height="4.8" fill="#edf4ca"/>
<rect x="453" y="359.2" width="1" height="9.7" fill="#a6c78d"/>
<rect x="453" y="339.9" width="1" height="19.3" fill="#deeb9c"/>
<rect x="454" y="364.1" width="1" height="4.8" fill="#78b0db"/>
<rect x="454" y="359.2" width="1" height="4.8" fill="#87bbe1"/>
<rect x="454" y="354.4" width="1" height="4.8" fill="#d5edf6"/>
<rect x="455" y="364.1" width="1" height="4.8" fill="#86acc7"/>
<rect x="455" y="354.4" width="1" height="9.7" fill="#c5dddd"/>
<rect x="455" y="330.2" width="1" height="24.2" fill="#fef5ea"/>
<rect x="456" y="354.4" width="1" height="14.5" fill="#ceca64"/>
<rect x="456" y="344.7" width="1" height="9.7" fill="#d6cd65"/>
<rect x="456" y="339.9" width="1" height="4.8" fill="#e4d47c"/>
<rect x="456" y="330.2" width="1" height="9.7" fill="#fce2c3"/>
<rect x="457" y="349.6" width="1" height="19.3" fill="#cadf6f"/>
<rect x="457" y="344.7" width="1" height="4.8" fill="#dde77d"/>
<rect x="457" y="339.9" width="1" height="4.8" fill="#faf5ac"/>
<rect x="457" y="335.1" width="1" height="4.8" fill="#fcf6b1"/>
<rect x="458" y="359.2" width="1" height="9.7" fill="#c0d58e"/>
<rect x="458" y="349.6" width="1" height="9.7" fill="#e0e997"/>
<rect x="458" y="335.1" width="1" height="14.5" fill="#fcf5ab"/>
<rect x="459" y="359.2" width="1" height="9.7" fill="#7eb9df"/>
<rect x="459" y="354.4" width="1" height="4.8" fill="#c5e6f2"/>
<rect x="460" y="359.2" width="1" height="9.7" fill="#93cbbd"/>
<rect x="460" y="349.6" width="1" height="9.7" fill="#b1dec5"/>
<rect x="460" y="339.9" width="1" height="9.7" fill="#fefffd"/>
<rect x="461" y="349.6" width="1" height="19.3" fill="#bcdc75"/>
<rect x="461" y="339.9" width="1" height="9.7" fill="#d8e88a"/>
</g>
<line x1="55.8" y1="323.2" x2="55.8" y2="369.5" stroke="#111" stroke-width="1.2" />
<line x1="55.2" y1="368.9" x2="463.7" y2="368.9" stroke="#111" stroke-width="1.2" />
<line x1="53.2" y1="325.4" x2="55.8" y2="325.4" stroke="#111" stroke-width="1.1" />
<line x1="53.2" y1="368.9" x2="55.8" y2="368.9" stroke="#111" stroke-width="1.1" />
<line x1="56.0" y1="368.9" x2="56.0" y2="371.5" stroke="#111" stroke-width="1.0" />
<line x1="103.22" y1="368.9" x2="103.22" y2="370.7" stroke="#111" stroke-width="1.0" />
<line x1="150.44" y1="368.9" x2="150.44" y2="371.5" stroke="#111" stroke-width="1.0" />
<line x1="197.66" y1="368.9" x2="197.66" y2="370.7" stroke="#111" stroke-width="1.0" />
<line x1="244.88" y1="368.9" x2="244.88" y2="371.5" stroke="#111" stroke-width="1.0" />
<line x1="292.1" y1="368.9" x2="292.1" y2="370.7" stroke="#111" stroke-width="1.0" />
<line x1="339.32" y1="368.9" x2="339.32" y2="371.5" stroke="#111" stroke-width="1.0" />
<line x1="386.54" y1="368.9" x2="386.54" y2="370.7" stroke="#111" stroke-width="1.0" />
<line x1="433.76" y1="368.9" x2="433.76" y2="371.5" stroke="#111" stroke-width="1.0" />
<line x1="461.6198" y1="368.9" x2="461.6198" y2="371.5" stroke="#111" stroke-width="1.0" />
<text x="56.0" y="382" text-anchor="middle" font-size="6.6" font-weight="normal" font-style="normal" fill="#222" stroke="#222" stroke-width="0.14" >0</text>
<text x="150.44" y="382" text-anchor="middle" font-size="6.6" font-weight="normal" font-style="normal" fill="#222" stroke="#222" stroke-width="0.14" >200</text>
<text x="244.88" y="382" text-anchor="middle" font-size="6.6" font-weight="normal" font-style="normal" fill="#222" stroke="#222" stroke-width="0.14" >400</text>
<text x="339.32" y="382" text-anchor="middle" font-size="6.6" font-weight="normal" font-style="normal" fill="#222" stroke="#222" stroke-width="0.14" >600</text>
<text x="433.76" y="382" text-anchor="middle" font-size="6.6" font-weight="normal" font-style="normal" fill="#222" stroke="#222" stroke-width="0.14" >800</text>
<text x="461.5" y="382" text-anchor="middle" font-size="6.6" font-weight="normal" font-style="normal" fill="#222" stroke="#222" stroke-width="0.14" >859</text>
<text x="48.3" y="327.7" text-anchor="middle" font-size="6.8" font-weight="normal" font-style="normal" fill="#222" stroke="#222" stroke-width="0.14" >9</text>
<text x="48.3" y="371.2" text-anchor="middle" font-size="6.8" font-weight="normal" font-style="normal" fill="#222" stroke="#222" stroke-width="0.14" >0</text>
<polyline points="56,323.4 56.5,331.1 57.1,338.2 57.9,341.0 58.6,343.4 59.4,344.9 60.4,346.7 61.4,346.3 62.4,343.3 63.5,340.2 64.5,334.5 65.5,332.1 66.5,333.7 67.5,335.5 68.5,342.6 69.5,348.0 70.5,354.6 71.5,359.7 72.5,357.8 73.5,357.7 74.4,353.7 75.4,349.3 76.3,346.1 77.3,342.3 78.2,338.2 79.1,339.3 80.0,342.0 80.9,344.9 81.8,342.2 82.6,341.5 83.5,339.0 84.3,336.2 85.3,339.6 86.3,345.3 87.3,347.9 88.3,353 89.2,351.9 90.1,349.4 91,349 92.1,345.0 93.2,344.2 94.2,339.8 95.3,337.0 96.4,334.8 97.3,337.8 98.2,339.3 99.1,340.2 100.2,342.3 101.3,346.4 102.3,348.0 103.4,350.9 104.5,353 105.6,349.1 106.7,347.6 107.7,343.7 108.8,341.2 109.9,336.8 110.9,339.8 111.9,340.4 112.9,342.5 113.9,344.9 114.9,343.7 116.0,343.2 117,343.6 117.9,342.8 118.8,343.5 119.7,344.2 120.5,342.3 121.4,338.7 122.2,338.1 123.1,335.5 123.9,339.0 124.8,342.8 125.6,347.9 126.4,351 127.3,349.6 128.2,347.8 129.1,346.9 129.9,346.4 130.8,346.4 131.7,344.3 132.5,344.9 133.5,343.9 134.5,339.4 135.5,339.0 136.5,336.2 137.4,339.0 138.3,339.0 139.2,342.2 140.1,342.0 141.0,340.1 141.9,339.5 142.8,344.6 143.7,348.2 144.6,354.3 145.4,354.6 146.1,356.3 146.9,358.4 147.7,359.0 148.5,356.7 149.3,357 150.3,353.8 151.3,350.4 152.3,345.6 153.1,346.9 153.9,345.7 154.7,346.3 155.7,344.3 156.7,342.9 157.7,344.0 158.7,345.6 159.7,345.0 160.7,346.9 161.7,344.7 162.6,342.0 163.6,339.3 164.5,334.5 165.5,332.8 166.3,335.9 167.2,335.9 168.0,338.5 168.8,340.9 169.8,343.2 170.9,346.0 171.9,346.6 172.9,349 173.9,347.5 174.9,344.1 175.9,341.0 176.9,338.9 177.8,338.2 178.7,337.7 179.6,338.2 180.5,335.3 181.4,333.6 182.3,332.5 183.3,334.4 184.4,336.6 185.4,336.8 186.3,335.8 187.2,335.3 188.1,336.2 188.9,339.4 189.8,340.3 190.6,342.0 191.4,344.2 192.4,345.3 193.4,347.8 194.5,350.1 195.5,351 196.3,347.9 197.2,344.8 198.0,340.9 198.8,338.9 199.7,340.7 200.5,339.4 201.3,341.4 202.2,342.2 203.2,341.3 204.2,338.0 205.2,337.7 206.2,335.5 207.0,338.1 207.9,338.9 208.8,340.8 209.6,341.6 210.5,338.4 211.4,336.9 212.3,334.8 213.3,333.5 214.3,334.6 215.3,332.8 216.3,332.8 217.2,335.4 218.2,339.4 219.1,341.7 220.1,344.7 221,346.3 222.0,344.2 223.1,342.2 224.1,340.8 225.1,338.2 226.1,342.2 227.1,346.3 228.0,346.0 228.9,346.5 229.8,346.9 230.9,348.5 232.0,351.5 233.1,354.3 233.9,356.0 234.8,356.5 235.7,356.2 236.5,356.4 237.3,354.0 238.2,351.3 239.1,348.3 239.9,346.9 241.0,344.1 242.1,343.1 243.2,340.2 244.0,344.1 244.9,345.9 245.8,350.0 246.6,352.3 247.6,350.4 248.5,347.6 249.5,344.5 250.5,344.1 251.4,343.6 252.4,342.2 253.3,343.2 254.2,345.4 255.1,346.3 256.0,344.9 256.9,344.5 257.8,343.6 258.8,345.9 259.8,347.4 260.8,348.1 261.8,350.3 262.7,352.5 263.6,352.9 264.5,353.7 265.4,349.5 266.4,343.8 267.4,340.7 268.3,336.2 269.2,339.3 270.1,344.0 271.0,347.2 271.9,351 272.8,352.6 273.6,353.0 274.4,354.2 275.3,354.3 276.1,352.6 277.0,352.0 277.8,350.9 278.6,349 279.5,346.4 280.5,341.9 281.4,339.7 282.3,335.5 283.4,335.7 284.5,334.6 285.6,334.6 286.7,332.8 287.6,336.7 288.4,338.5 289.2,341.4 290.1,344.2 291.1,344.4 292.1,346.3 293.1,342.8 294.2,338.8 295.2,333.5 296.3,338.3 297.4,343.7 298.4,348.7 299.5,353 300.4,351.0 301.4,347.1 302.3,346.0 303.3,343.0 304.2,340.2 305.1,342.6 305.9,344.1 306.8,346.6 307.6,348.3 308.5,350.2 309.5,351.0 310.4,352.4 311.4,352.0 312.3,354.3 313.2,349.6 314.1,346.5 315.1,343.1 316,338.9 317.0,342.8 318.1,348.4 319.1,352.8 320.1,357 321.0,356.8 321.9,358.7 322.8,359.7 323.8,357.4 324.8,355.3 325.8,353.8 326.8,353 327.9,348.4 329.0,343.9 330.0,339.7 331.1,335.2 332.2,332.1 333.2,335.6 334.2,338.9 335.2,343.0 336.2,346.3 337.1,343.8 338.0,340.3 338.9,338.2 339.8,344.3 340.7,347.3 341.6,353.7 342.5,354.8 343.4,355.8 344.3,357.7 345.1,355.1 346.0,352.1 346.9,351.4 347.7,348.3 348.6,346.0 349.6,343.1 350.5,342.5 351.5,339.2 352.4,338.2 353.2,339.5 354.0,340.2 354.9,341.9 355.7,342.9 356.6,345.8 357.4,347.4 358.2,348.3 359.1,350.3 360.1,348.0 361.1,344.6 362.1,340.9 363.1,338.2 364.0,338.7 364.9,341.1 365.8,342.2 366.6,341.0 367.5,340.6 368.3,338.2 369.2,341.0 370.1,341.8 371.0,342.9 371.9,344.9 372.9,343.5 373.9,340.2 374.9,341.0 375.9,344.2 376.8,342.2 377.7,342.2 378.6,340.9 379.6,343.0 380.5,343.7 381.4,346.8 382.4,348.3 383.2,348.9 384.0,347.3 384.9,347.1 385.7,346.9 386.7,344.4 387.8,342.7 388.8,342.5 389.8,339.5 390.8,338.4 391.8,339.0 392.8,338.0 393.8,336.2 394.6,336.3 395.5,335.3 396.4,336.8 397.2,335.5 398.1,334.8 399.1,333.9 400.1,333.0 401,332.8 402.1,337.0 403.1,338.8 404.2,341.4 405.3,344.9 406.1,345.2 407.0,344.7 407.8,346.2 408.6,346.3 409.5,346.8 410.3,347.2 411.1,349.0 412,349 413.0,347.5 414.0,343.2 415.1,342.2 416.1,339.3 417.1,337.5 418.0,341.1 418.9,343.2 419.8,344.5 420.7,347.6 421.6,346.1 422.5,345.0 423.4,344.9 424.4,348.6 425.4,349.5 426.5,352.7 427.5,355 428.4,354.7 429.3,354.9 430.2,354.3 431.2,356.2 432.2,357.7 433.1,356.7 434.0,353.7 434.9,353 435.8,353.9 436.7,353.0 437.6,353.7 438.6,350.9 439.6,347.6 440.7,344.6 441.7,342.2 442.5,344.3 443.4,346.2 444.2,347.9 445,350.3 445.9,348.7 446.7,346.1 447.6,343.6 448.5,342.0 449.4,342.1 450.3,342.2 451.0,343.4 451.6,344.9 452.6,344.5 453.6,342.2 454.4,341.8 455.3,339.6 456.1,338.2 456.9,338.6 457.6,342.0 458.4,342.9 459.2,345.8 460.1,349 461.1,344.4 462,339.5" fill="none" stroke="#111" stroke-width="0.85" stroke-linejoin="round"/>
<text transform="translate(28.3,345.5) rotate(-90) scale(0.72,1)" text-anchor="middle" font-size="9.2" fill="#333" stroke="#333" stroke-width="0.2">Conservation</text>
<text transform="translate(38.8,345.5) rotate(-90) scale(0.72,1)" text-anchor="middle" font-size="9.2" fill="#333" stroke="#333" stroke-width="0.2">score</text>
<text x="95.2" y="395.3" text-anchor="middle" font-size="6.55" font-weight="normal" font-style="normal" fill="#222" stroke="#222" stroke-width="0.14" >conservation across</text>
<text x="94.7" y="403.1" text-anchor="middle" font-size="6.55" font-weight="normal" font-style="normal" fill="#222" stroke="#222" stroke-width="0.14" >99 FANCB homologs:</text>
<rect x="135.1" y="392.4" width="44.4" height="6.5" fill="#111"/>
<rect x="136.30" y="393.6" width="4.72" height="4.1" fill="#3462b8"/>
<rect x="140.97" y="393.6" width="4.72" height="4.1" fill="#4f8fd0"/>
<rect x="145.63" y="393.6" width="4.72" height="4.1" fill="#74c4e0"/>
<rect x="150.30" y="393.6" width="4.72" height="4.1" fill="#86cca6"/>
<rect x="154.97" y="393.6" width="4.72" height="4.1" fill="#8cc84a"/>
<rect x="159.63" y="393.6" width="4.72" height="4.1" fill="#bdd738"/>
<rect x="164.30" y="393.6" width="4.72" height="4.1" fill="#f7e733"/>
<rect x="168.97" y="393.6" width="4.72" height="4.1" fill="#f39a2a"/>
<rect x="173.63" y="393.6" width="4.72" height="4.1" fill="#df3e28"/>
<text x="183.3" y="399" text-anchor="start" font-size="6.55" font-weight="normal" font-style="normal" fill="#222" stroke="#222" stroke-width="0.14" >: individual amino acid</text>
<text x="183.3" y="406.5" text-anchor="start" font-size="6.55" font-weight="normal" font-style="normal" fill="#222" stroke="#222" stroke-width="0.14" >:15aa moving average</text>
<polyline points="140.3,407.4 142.2,407 143.8,408.6 145.7,411.1 147.5,410.4 149,410 150.6,407.6 152.2,408.1 153.8,407 154.9,408.6 156.5,405.5 158,406.5 159.6,407.6 160.7,409.2 162.3,406.5 163.9,406.8 164.9,406 166.5,407.6 168.1,406.5 170,401.8 171.3,403.9 172.9,406.5 174.4,410.8" fill="none" stroke="#111" stroke-width="0.9" stroke-linejoin="round"/>
<rect x="67.4" y="302.6" width="17.6" height="19.6" fill="#fcfcfd"/>
<rect x="67.40" y="294.3" width="5.87" height="3.40" fill="#f1f1f4"/>
<rect x="69.73" y="295.10" width="1.2" height="1.80" fill="#9c9ca8"/>
<rect x="73.27" y="294.3" width="5.87" height="3.40" fill="#2b2b2b"/>
<rect x="74.24" y="295.20" width="0.7" height="1.60" fill="#8a8a8a"/>
<rect x="75.87" y="295.20" width="0.7" height="1.60" fill="#8a8a8a"/>
<rect x="77.50" y="295.20" width="0.7" height="1.60" fill="#8a8a8a"/>
<rect x="79.13" y="294.3" width="5.87" height="3.40" fill="#f1f1f4"/>
<rect x="81.47" y="295.10" width="1.2" height="1.80" fill="#9c9ca8"/>
<rect x="67.40" y="301.60" width="5.92" height="0.80" fill="#3a55a8"/>
<rect x="73.27" y="298.80" width="5.92" height="3.60" fill="#c8472c"/>
<rect x="79.13" y="301.60" width="5.92" height="0.80" fill="#5f9f34"/>
<text transform="translate(72.60,321.00) scale(0.982,2.538)" font-family="Liberation Serif" style="font-family:'Liberation Serif',serif" font-size="10" font-weight="normal" fill="#9c2462">L</text>
<text transform="translate(78.90,317.40) scale(0.762,0.785)" font-family="Liberation Serif" style="font-family:'Liberation Serif',serif" font-size="10" font-weight="normal" fill="#a4562c">H</text>
<text transform="translate(67.80,319.40) scale(0.637,0.589)" font-family="Liberation Serif" style="font-family:'Liberation Serif',serif" font-size="10" font-weight="normal" fill="#58b868">A</text>
<rect x="68" y="319.6" width="4.2" height="1.4" fill="#b7a3e0"/>
<rect x="79.2" y="317.8" width="5" height="1.3" fill="#c9c94a"/>
<rect x="79.6" y="319.3" width="4.4" height="1.2" fill="#7fc27f"/>
<rect x="67.40" y="323.3" width="5.87" height="3.10" fill="#f1f1f4"/>
<rect x="69.73" y="324.10" width="1.2" height="1.50" fill="#9c9ca8"/>
<rect x="73.27" y="323.3" width="5.87" height="3.10" fill="#2b2b2b"/>
<rect x="74.24" y="324.20" width="0.7" height="1.30" fill="#8a8a8a"/>
<rect x="75.87" y="324.20" width="0.7" height="1.30" fill="#8a8a8a"/>
<rect x="77.50" y="324.20" width="0.7" height="1.30" fill="#8a8a8a"/>
<rect x="79.13" y="323.3" width="5.87" height="3.10" fill="#f1f1f4"/>
<rect x="81.47" y="324.10" width="1.2" height="1.50" fill="#9c9ca8"/>
<rect x="101" y="302.6" width="18.3" height="19.6" fill="#fcfcfd"/>
<rect x="101.00" y="294.3" width="6.10" height="3.40" fill="#2b2b2b"/>
<rect x="102.02" y="295.20" width="0.7" height="1.60" fill="#8a8a8a"/>
<rect x="103.71" y="295.20" width="0.7" height="1.60" fill="#8a8a8a"/>
<rect x="105.41" y="295.20" width="0.7" height="1.60" fill="#8a8a8a"/>
<rect x="107.10" y="294.3" width="6.10" height="3.40" fill="#2b2b2b"/>
<rect x="108.12" y="295.20" width="0.7" height="1.60" fill="#8a8a8a"/>
<rect x="109.81" y="295.20" width="0.7" height="1.60" fill="#8a8a8a"/>
<rect x="111.51" y="295.20" width="0.7" height="1.60" fill="#8a8a8a"/>
<rect x="113.20" y="294.3" width="6.10" height="3.40" fill="#2b2b2b"/>
<rect x="114.22" y="295.20" width="0.7" height="1.60" fill="#8a8a8a"/>
<rect x="115.91" y="295.20" width="0.7" height="1.60" fill="#8a8a8a"/>
<rect x="117.61" y="295.20" width="0.7" height="1.60" fill="#8a8a8a"/>
<rect x="101.00" y="300.40" width="6.15" height="2.00" fill="#7db63c"/>
<rect x="107.10" y="299.10" width="6.15" height="3.30" fill="#e0852c"/>
<rect x="113.20" y="298.80" width="6.15" height="3.60" fill="#c8472c"/>
<text transform="translate(101.30,317.90) scale(0.817,1.163)" font-family="Liberation Serif" style="font-family:'Liberation Serif',serif" font-size="10" font-weight="normal" fill="#2233e8">K</text>
<text transform="translate(107.30,321.00) scale(1.079,2.387)" font-family="Liberation Serif" style="font-family:'Liberation Serif',serif" font-size="10" font-weight="normal" fill="#222">F</text>
<text transform="translate(113.30,321.00) scale(0.982,2.538)" font-family="Liberation Serif" style="font-family:'Liberation Serif',serif" font-size="10" font-weight="normal" fill="#e211e2">E</text>
<rect x="101.8" y="318.4" width="4.8" height="1.3" fill="#6fbf8f"/>
<rect x="101.8" y="319.9" width="4.8" height="1.1" fill="#a9b4e8"/>
<rect x="101.00" y="323.3" width="6.10" height="3.10" fill="#2b2b2b"/>
<rect x="102.02" y="324.20" width="0.7" height="1.30" fill="#8a8a8a"/>
<rect x="103.71" y="324.20" width="0.7" height="1.30" fill="#8a8a8a"/>
<rect x="105.41" y="324.20" width="0.7" height="1.30" fill="#8a8a8a"/>
<rect x="107.10" y="323.3" width="6.10" height="3.10" fill="#2b2b2b"/>
<rect x="108.12" y="324.20" width="0.7" height="1.30" fill="#8a8a8a"/>
<rect x="109.81" y="324.20" width="0.7" height="1.30" fill="#8a8a8a"/>
<rect x="111.51" y="324.20" width="0.7" height="1.30" fill="#8a8a8a"/>
<rect x="113.20" y="323.3" width="6.10" height="3.10" fill="#2b2b2b"/>
<rect x="114.22" y="324.20" width="0.7" height="1.30" fill="#8a8a8a"/>
<rect x="115.91" y="324.20" width="0.7" height="1.30" fill="#8a8a8a"/>
<rect x="117.61" y="324.20" width="0.7" height="1.30" fill="#8a8a8a"/>
<rect x="201" y="301.2" width="20" height="20.8" fill="#fcfcfd"/>
<rect x="201.00" y="292.4" width="6.67" height="3.00" fill="#2b2b2b"/>
<rect x="202.11" y="293.30" width="0.7" height="1.20" fill="#8a8a8a"/>
<rect x="203.96" y="293.30" width="0.7" height="1.20" fill="#8a8a8a"/>
<rect x="205.81" y="293.30" width="0.7" height="1.20" fill="#8a8a8a"/>
<rect x="207.67" y="292.4" width="6.67" height="3.00" fill="#2b2b2b"/>
<rect x="208.78" y="293.30" width="0.7" height="1.20" fill="#8a8a8a"/>
<rect x="210.63" y="293.30" width="0.7" height="1.20" fill="#8a8a8a"/>
<rect x="212.48" y="293.30" width="0.7" height="1.20" fill="#8a8a8a"/>
<rect x="214.33" y="292.4" width="6.67" height="3.00" fill="#2b2b2b"/>
<rect x="215.44" y="293.30" width="0.7" height="1.20" fill="#8a8a8a"/>
<rect x="217.30" y="293.30" width="0.7" height="1.20" fill="#8a8a8a"/>
<rect x="219.15" y="293.30" width="0.7" height="1.20" fill="#8a8a8a"/>
<rect x="201.00" y="298.00" width="6.72" height="3.00" fill="#f0e23c"/>
<rect x="207.67" y="297.20" width="6.72" height="3.80" fill="#c8472c"/>
<rect x="214.33" y="299.00" width="6.72" height="2.00" fill="#b4cf3e"/>
<text transform="translate(201.40,319.80) scale(0.859,2.160)" font-family="Liberation Serif" style="font-family:'Liberation Serif',serif" font-size="10" font-weight="normal" fill="#3fa535">V</text>
<text transform="translate(207.60,320.70) scale(1.080,2.704)" font-family="Liberation Serif" style="font-family:'Liberation Serif',serif" font-size="10" font-weight="normal" fill="#9c2462">L</text>
<text transform="translate(214.60,314.20) scale(0.886,1.208)" font-family="Liberation Serif" style="font-family:'Liberation Serif',serif" font-size="10" font-weight="normal" fill="#3fa535">V</text>
<text transform="translate(216.20,320.70) scale(0.961,0.952)" font-family="Liberation Serif" style="font-family:'Liberation Serif',serif" font-size="10" font-weight="bold" fill="#2a7d3c">I</text>
<rect x="201.8" y="320" width="5" height="1" fill="#c58fc0"/>
<rect x="201.00" y="323" width="6.67" height="3.00" fill="#2b2b2b"/>
<rect x="202.11" y="323.90" width="0.7" height="1.20" fill="#8a8a8a"/>
<rect x="203.96" y="323.90" width="0.7" height="1.20" fill="#8a8a8a"/>
<rect x="205.81" y="323.90" width="0.7" height="1.20" fill="#8a8a8a"/>
<rect x="207.67" y="323" width="6.67" height="3.00" fill="#2b2b2b"/>
<rect x="208.78" y="323.90" width="0.7" height="1.20" fill="#8a8a8a"/>
<rect x="210.63" y="323.90" width="0.7" height="1.20" fill="#8a8a8a"/>
<rect x="212.48" y="323.90" width="0.7" height="1.20" fill="#8a8a8a"/>
<rect x="214.33" y="323" width="6.67" height="3.00" fill="#2b2b2b"/>
<rect x="215.44" y="323.90" width="0.7" height="1.20" fill="#8a8a8a"/>
<rect x="217.30" y="323.90" width="0.7" height="1.20" fill="#8a8a8a"/>
<rect x="219.15" y="323.90" width="0.7" height="1.20" fill="#8a8a8a"/>
<rect x="272.2" y="302.2" width="18.5" height="19.4" fill="#fcfcfd"/>
<rect x="272.20" y="293.7" width="6.17" height="3.00" fill="#f1f1f4"/>
<rect x="274.68" y="294.50" width="1.2" height="1.40" fill="#9c9ca8"/>
<rect x="278.37" y="293.7" width="6.17" height="3.00" fill="#2b2b2b"/>
<rect x="279.39" y="294.60" width="0.7" height="1.20" fill="#8a8a8a"/>
<rect x="281.11" y="294.60" width="0.7" height="1.20" fill="#8a8a8a"/>
<rect x="282.82" y="294.60" width="0.7" height="1.20" fill="#8a8a8a"/>
<rect x="284.53" y="293.7" width="6.17" height="3.00" fill="#f1f1f4"/>
<rect x="287.02" y="294.50" width="1.2" height="1.40" fill="#9c9ca8"/>
<rect x="272.20" y="300.60" width="6.22" height="1.50" fill="#6aaa3a"/>
<rect x="278.37" y="298.00" width="6.22" height="4.10" fill="#d0432c"/>
<rect x="284.53" y="300.60" width="6.22" height="1.50" fill="#6aaa3a"/>
<polyline points="278.7,302.3 280.4,320.2 281.9,303.5 283.5,320.2 285.1,302.3" fill="none" stroke="#a04a58" stroke-width="0.75" stroke-linejoin="miter"/>
<text transform="translate(273.00,314.20) scale(0.851,0.604)" font-family="Liberation Serif" style="font-family:'Liberation Serif',serif" font-size="10" font-weight="bold" fill="#9c2462">L</text>
<text transform="translate(274.20,318.30) scale(0.901,0.589)" font-family="Liberation Serif" style="font-family:'Liberation Serif',serif" font-size="10" font-weight="bold" fill="#2a7d3c">I</text>
<rect x="273.2" y="318.7" width="4.8" height="1.2" fill="#c04fc0"/>
<text transform="translate(285.40,314.20) scale(0.720,0.801)" font-family="Liberation Serif" style="font-family:'Liberation Serif',serif" font-size="10" font-weight="bold" fill="#2a7d3c">Y</text>
<text transform="translate(285.60,319.20) scale(0.665,0.695)" font-family="Liberation Serif" style="font-family:'Liberation Serif',serif" font-size="10" font-weight="normal" fill="#3f6fd0">Q</text>
<rect x="285.8" y="319.6" width="4.4" height="1" fill="#d0c040"/>
<rect x="272.20" y="322.3" width="6.17" height="3.10" fill="#2b2b2b"/>
<rect x="273.23" y="323.20" width="0.7" height="1.30" fill="#8a8a8a"/>
<rect x="274.94" y="323.20" width="0.7" height="1.30" fill="#8a8a8a"/>
<rect x="276.65" y="323.20" width="0.7" height="1.30" fill="#8a8a8a"/>
<rect x="278.37" y="322.3" width="6.17" height="3.10" fill="#2b2b2b"/>
<rect x="279.39" y="323.20" width="0.7" height="1.30" fill="#8a8a8a"/>
<rect x="281.11" y="323.20" width="0.7" height="1.30" fill="#8a8a8a"/>
<rect x="282.82" y="323.20" width="0.7" height="1.30" fill="#8a8a8a"/>
<rect x="284.53" y="322.3" width="6.17" height="3.10" fill="#f1f1f4"/>
<rect x="287.02" y="323.10" width="1.2" height="1.50" fill="#9c9ca8"/>
<rect x="363.9" y="300.3" width="20" height="21.5" fill="#fcfcfd"/>
<rect x="363.90" y="291.4" width="6.67" height="3.10" fill="#2b2b2b"/>
<rect x="365.01" y="292.30" width="0.7" height="1.30" fill="#8a8a8a"/>
<rect x="366.86" y="292.30" width="0.7" height="1.30" fill="#8a8a8a"/>
<rect x="368.71" y="292.30" width="0.7" height="1.30" fill="#8a8a8a"/>
<rect x="370.57" y="291.4" width="6.67" height="3.10" fill="#2b2b2b"/>
<rect x="371.68" y="292.30" width="0.7" height="1.30" fill="#8a8a8a"/>
<rect x="373.53" y="292.30" width="0.7" height="1.30" fill="#8a8a8a"/>
<rect x="375.38" y="292.30" width="0.7" height="1.30" fill="#8a8a8a"/>
<rect x="377.23" y="291.4" width="6.67" height="3.10" fill="#2b2b2b"/>
<rect x="378.34" y="292.30" width="0.7" height="1.30" fill="#8a8a8a"/>
<rect x="380.20" y="292.30" width="0.7" height="1.30" fill="#8a8a8a"/>
<rect x="382.05" y="292.30" width="0.7" height="1.30" fill="#8a8a8a"/>
<rect x="363.90" y="295.70" width="6.72" height="4.30" fill="#d0432c"/>
<rect x="370.57" y="295.70" width="6.72" height="4.30" fill="#e2892c"/>
<rect x="377.23" y="297.00" width="6.72" height="3.00" fill="#7db63c"/>
<polyline points="364.2,301.6 366.0,318.8 367.6,302.8 369.2,318.8 370.9,301.6" fill="none" stroke="#8e2a3a" stroke-width="0.95" stroke-linejoin="miter"/>
<text transform="translate(371.00,320.30) scale(1.080,2.840)" font-family="Liberation Serif" style="font-family:'Liberation Serif',serif" font-size="10" font-weight="normal" fill="#9c2462">L</text>
<text transform="translate(377.60,318.00) scale(1.047,1.858)" font-family="Liberation Serif" style="font-family:'Liberation Serif',serif" font-size="10" font-weight="normal" fill="#9c2462">L</text>
<rect x="378.2" y="318.6" width="5" height="1.1" fill="#7f9fdf"/>
<rect x="378.2" y="319.9" width="5" height="1" fill="#8fcf6f"/>
<rect x="363.90" y="323" width="6.67" height="3.20" fill="#2b2b2b"/>
<rect x="365.01" y="323.90" width="0.7" height="1.40" fill="#8a8a8a"/>
<rect x="366.86" y="323.90" width="0.7" height="1.40" fill="#8a8a8a"/>
<rect x="368.71" y="323.90" width="0.7" height="1.40" fill="#8a8a8a"/>
<rect x="370.57" y="323" width="6.67" height="3.20" fill="#2b2b2b"/>
<rect x="371.68" y="323.90" width="0.7" height="1.40" fill="#8a8a8a"/>
<rect x="373.53" y="323.90" width="0.7" height="1.40" fill="#8a8a8a"/>
<rect x="375.38" y="323.90" width="0.7" height="1.40" fill="#8a8a8a"/>
<rect x="377.23" y="323" width="6.67" height="3.20" fill="#2b2b2b"/>
<rect x="378.34" y="323.90" width="0.7" height="1.40" fill="#8a8a8a"/>
<rect x="380.20" y="323.90" width="0.7" height="1.40" fill="#8a8a8a"/>
<rect x="382.05" y="323.90" width="0.7" height="1.40" fill="#8a8a8a"/>
<rect x="405.8" y="299" width="20.2" height="22.4" fill="#fcfcfd"/>
<rect x="405.80" y="289.2" width="6.73" height="3.40" fill="#f1f1f4"/>
<rect x="408.57" y="290.00" width="1.2" height="1.80" fill="#9c9ca8"/>
<rect x="412.53" y="289.2" width="6.73" height="3.40" fill="#2b2b2b"/>
<rect x="413.66" y="290.10" width="0.7" height="1.60" fill="#8a8a8a"/>
<rect x="415.53" y="290.10" width="0.7" height="1.60" fill="#8a8a8a"/>
<rect x="417.40" y="290.10" width="0.7" height="1.60" fill="#8a8a8a"/>
<rect x="419.27" y="289.2" width="6.73" height="3.40" fill="#2b2b2b"/>
<rect x="420.39" y="290.10" width="0.7" height="1.60" fill="#8a8a8a"/>
<rect x="422.26" y="290.10" width="0.7" height="1.60" fill="#8a8a8a"/>
<rect x="424.13" y="290.10" width="0.7" height="1.60" fill="#8a8a8a"/>
<rect x="405.80" y="297.40" width="6.78" height="1.40" fill="#8fc8e4"/>
<rect x="412.53" y="295.70" width="6.78" height="3.10" fill="#6aa83a"/>
<rect x="419.27" y="296.10" width="6.78" height="2.70" fill="#82bb5a"/>
<text transform="translate(406.20,313.40) scale(1.043,0.695)" font-family="Liberation Serif" style="font-family:'Liberation Serif',serif" font-size="10" font-weight="normal" fill="#d9503f">S</text>
<text transform="translate(406.20,318.50) scale(0.949,0.740)" font-family="Liberation Serif" style="font-family:'Liberation Serif',serif" font-size="10" font-weight="bold" fill="#9c2462">L</text>
<text transform="translate(412.00,317.20) scale(0.997,1.964)" font-family="Liberation Serif" style="font-family:'Liberation Serif',serif" font-size="10" font-weight="normal" fill="#5a9a2e">G</text>
<text transform="translate(419.20,317.20) scale(1.223,1.964)" font-family="Liberation Serif" style="font-family:'Liberation Serif',serif" font-size="10" font-weight="normal" fill="#d9503f">S</text>
<rect x="406.4" y="319" width="5.2" height="1.1" fill="#8fcf6f"/>
<rect x="412.4" y="317.7" width="6.4" height="1.4" fill="#e040e0"/>
<rect x="419.6" y="317.7" width="6" height="1.3" fill="#5fb0e0"/>
<rect x="412.4" y="319.3" width="13" height="1" fill="#b0d870"/>
<rect x="405.80" y="322.6" width="6.73" height="3.60" fill="#f1f1f4"/>
<rect x="408.57" y="323.40" width="1.2" height="2.00" fill="#9c9ca8"/>
<rect x="412.53" y="322.6" width="6.73" height="3.60" fill="#2b2b2b"/>
<rect x="413.66" y="323.50" width="0.7" height="1.80" fill="#8a8a8a"/>
<rect x="415.53" y="323.50" width="0.7" height="1.80" fill="#8a8a8a"/>
<rect x="417.40" y="323.50" width="0.7" height="1.80" fill="#8a8a8a"/>
<rect x="419.27" y="322.6" width="6.73" height="3.60" fill="#2b2b2b"/>
<rect x="420.39" y="323.50" width="0.7" height="1.80" fill="#8a8a8a"/>
<rect x="422.26" y="323.50" width="0.7" height="1.80" fill="#8a8a8a"/>
<rect x="424.13" y="323.50" width="0.7" height="1.80" fill="#8a8a8a"/>
<path d="M0,0H520V420H0Z M1,1V418.6H518.8V1Z" fill="#000" fill-rule="evenodd"/>
</svg>
</body></html>
